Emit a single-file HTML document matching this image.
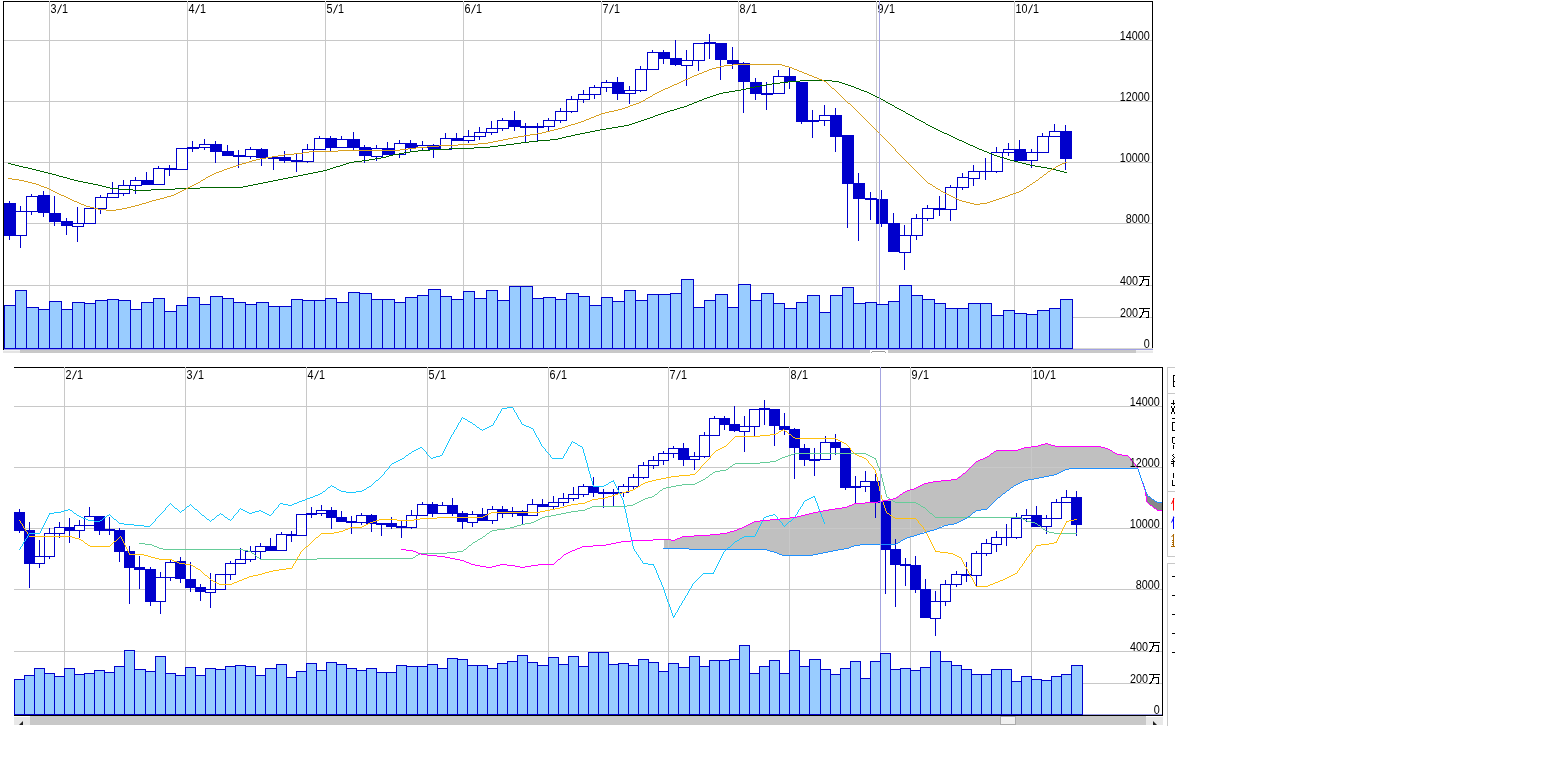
<!DOCTYPE html><html><head><meta charset="utf-8"><title>chart</title><style>html,body{margin:0;padding:0;background:#fff;overflow:hidden}svg{display:block;will-change:transform}</style></head><body><svg width="1558" height="768" viewBox="0 0 1558 768" font-family="Liberation Sans, sans-serif" shape-rendering="crispEdges">
<rect width="1558" height="768" fill="#fff"/>
<rect x="49" y="2" width="1" height="346" fill="#c8c8c8"/>
<rect x="187" y="2" width="1" height="346" fill="#c8c8c8"/>
<rect x="325" y="2" width="1" height="346" fill="#c8c8c8"/>
<rect x="463" y="2" width="1" height="346" fill="#c8c8c8"/>
<rect x="601" y="2" width="1" height="346" fill="#c8c8c8"/>
<rect x="738" y="2" width="1" height="346" fill="#c8c8c8"/>
<rect x="876" y="2" width="1" height="346" fill="#c8c8c8"/>
<rect x="1014" y="2" width="1" height="346" fill="#c8c8c8"/>
<rect x="4" y="40" width="1148" height="1" fill="#c8c8c8"/>
<rect x="4" y="101" width="1148" height="1" fill="#c8c8c8"/>
<rect x="4" y="162" width="1148" height="1" fill="#c8c8c8"/>
<rect x="4" y="223" width="1148" height="1" fill="#c8c8c8"/>
<rect x="4" y="285" width="1148" height="1" fill="#c8c8c8"/>
<rect x="4" y="317" width="1148" height="1" fill="#c8c8c8"/>
<rect x="4" y="348" width="1149" height="1" fill="#d8d8d0"/>
<rect x="4" y="349" width="1149" height="1" fill="#a0a0e4"/>
<rect x="3" y="350" width="17" height="1" fill="#f4f4f4"/>
<rect x="3" y="351" width="17" height="2" fill="#e4e4e4"/>
<rect x="20" y="350" width="1116" height="3" fill="#c8c8c8"/>
<rect x="1136" y="350" width="17" height="1" fill="#f4f4f4"/>
<rect x="1136" y="351" width="17" height="2" fill="#e8e8e8"/>
<rect x="870" y="350" width="18" height="3" fill="#fff"/>
<rect x="872" y="351" width="13" height="1" fill="#999"/>
<rect x="871" y="352" width="1" height="1" fill="#999"/>
<rect x="885" y="352" width="1" height="1" fill="#999"/>
<rect x="4.5" y="305.5" width="11" height="43" fill="#99ccff" stroke="#0000cc" stroke-width="1"/>
<rect x="15.5" y="290.5" width="11" height="58" fill="#99ccff" stroke="#0000cc" stroke-width="1"/>
<rect x="26.5" y="307.5" width="12" height="41" fill="#99ccff" stroke="#0000cc" stroke-width="1"/>
<rect x="38.5" y="309.5" width="11" height="39" fill="#99ccff" stroke="#0000cc" stroke-width="1"/>
<rect x="49.5" y="301.5" width="12" height="47" fill="#99ccff" stroke="#0000cc" stroke-width="1"/>
<rect x="61.5" y="309.5" width="11" height="39" fill="#99ccff" stroke="#0000cc" stroke-width="1"/>
<rect x="72.5" y="302.5" width="12" height="46" fill="#99ccff" stroke="#0000cc" stroke-width="1"/>
<rect x="84.5" y="303.5" width="11" height="45" fill="#99ccff" stroke="#0000cc" stroke-width="1"/>
<rect x="95.5" y="300.5" width="12" height="48" fill="#99ccff" stroke="#0000cc" stroke-width="1"/>
<rect x="107.5" y="299.5" width="11" height="49" fill="#99ccff" stroke="#0000cc" stroke-width="1"/>
<rect x="118.5" y="300.5" width="12" height="48" fill="#99ccff" stroke="#0000cc" stroke-width="1"/>
<rect x="130.5" y="309.5" width="11" height="39" fill="#99ccff" stroke="#0000cc" stroke-width="1"/>
<rect x="141.5" y="302.5" width="12" height="46" fill="#99ccff" stroke="#0000cc" stroke-width="1"/>
<rect x="153.5" y="298.5" width="11" height="50" fill="#99ccff" stroke="#0000cc" stroke-width="1"/>
<rect x="164.5" y="311.5" width="12" height="37" fill="#99ccff" stroke="#0000cc" stroke-width="1"/>
<rect x="176.5" y="305.5" width="11" height="43" fill="#99ccff" stroke="#0000cc" stroke-width="1"/>
<rect x="187.5" y="297.5" width="12" height="51" fill="#99ccff" stroke="#0000cc" stroke-width="1"/>
<rect x="199.5" y="304.5" width="11" height="44" fill="#99ccff" stroke="#0000cc" stroke-width="1"/>
<rect x="210.5" y="296.5" width="12" height="52" fill="#99ccff" stroke="#0000cc" stroke-width="1"/>
<rect x="222.5" y="298.5" width="11" height="50" fill="#99ccff" stroke="#0000cc" stroke-width="1"/>
<rect x="233.5" y="302.5" width="12" height="46" fill="#99ccff" stroke="#0000cc" stroke-width="1"/>
<rect x="245.5" y="304.5" width="11" height="44" fill="#99ccff" stroke="#0000cc" stroke-width="1"/>
<rect x="256.5" y="302.5" width="12" height="46" fill="#99ccff" stroke="#0000cc" stroke-width="1"/>
<rect x="268.5" y="306.5" width="11" height="42" fill="#99ccff" stroke="#0000cc" stroke-width="1"/>
<rect x="279.5" y="306.5" width="12" height="42" fill="#99ccff" stroke="#0000cc" stroke-width="1"/>
<rect x="291.5" y="299.5" width="11" height="49" fill="#99ccff" stroke="#0000cc" stroke-width="1"/>
<rect x="302.5" y="300.5" width="12" height="48" fill="#99ccff" stroke="#0000cc" stroke-width="1"/>
<rect x="314.5" y="300.5" width="11" height="48" fill="#99ccff" stroke="#0000cc" stroke-width="1"/>
<rect x="325.5" y="298.5" width="11" height="50" fill="#99ccff" stroke="#0000cc" stroke-width="1"/>
<rect x="336.5" y="302.5" width="12" height="46" fill="#99ccff" stroke="#0000cc" stroke-width="1"/>
<rect x="348.5" y="292.5" width="11" height="56" fill="#99ccff" stroke="#0000cc" stroke-width="1"/>
<rect x="359.5" y="293.5" width="12" height="55" fill="#99ccff" stroke="#0000cc" stroke-width="1"/>
<rect x="371.5" y="299.5" width="11" height="49" fill="#99ccff" stroke="#0000cc" stroke-width="1"/>
<rect x="382.5" y="299.5" width="12" height="49" fill="#99ccff" stroke="#0000cc" stroke-width="1"/>
<rect x="394.5" y="302.5" width="11" height="46" fill="#99ccff" stroke="#0000cc" stroke-width="1"/>
<rect x="405.5" y="297.5" width="12" height="51" fill="#99ccff" stroke="#0000cc" stroke-width="1"/>
<rect x="417.5" y="295.5" width="11" height="53" fill="#99ccff" stroke="#0000cc" stroke-width="1"/>
<rect x="428.5" y="289.5" width="12" height="59" fill="#99ccff" stroke="#0000cc" stroke-width="1"/>
<rect x="440.5" y="296.5" width="11" height="52" fill="#99ccff" stroke="#0000cc" stroke-width="1"/>
<rect x="451.5" y="299.5" width="12" height="49" fill="#99ccff" stroke="#0000cc" stroke-width="1"/>
<rect x="463.5" y="291.5" width="11" height="57" fill="#99ccff" stroke="#0000cc" stroke-width="1"/>
<rect x="474.5" y="298.5" width="12" height="50" fill="#99ccff" stroke="#0000cc" stroke-width="1"/>
<rect x="486.5" y="290.5" width="11" height="58" fill="#99ccff" stroke="#0000cc" stroke-width="1"/>
<rect x="497.5" y="300.5" width="12" height="48" fill="#99ccff" stroke="#0000cc" stroke-width="1"/>
<rect x="509.5" y="286.5" width="11" height="62" fill="#99ccff" stroke="#0000cc" stroke-width="1"/>
<rect x="520.5" y="286.5" width="12" height="62" fill="#99ccff" stroke="#0000cc" stroke-width="1"/>
<rect x="532.5" y="298.5" width="11" height="50" fill="#99ccff" stroke="#0000cc" stroke-width="1"/>
<rect x="543.5" y="297.5" width="12" height="51" fill="#99ccff" stroke="#0000cc" stroke-width="1"/>
<rect x="555.5" y="299.5" width="11" height="49" fill="#99ccff" stroke="#0000cc" stroke-width="1"/>
<rect x="566.5" y="293.5" width="12" height="55" fill="#99ccff" stroke="#0000cc" stroke-width="1"/>
<rect x="578.5" y="296.5" width="11" height="52" fill="#99ccff" stroke="#0000cc" stroke-width="1"/>
<rect x="589.5" y="305.5" width="12" height="43" fill="#99ccff" stroke="#0000cc" stroke-width="1"/>
<rect x="601.5" y="297.5" width="11" height="51" fill="#99ccff" stroke="#0000cc" stroke-width="1"/>
<rect x="612.5" y="301.5" width="12" height="47" fill="#99ccff" stroke="#0000cc" stroke-width="1"/>
<rect x="624.5" y="290.5" width="11" height="58" fill="#99ccff" stroke="#0000cc" stroke-width="1"/>
<rect x="635.5" y="300.5" width="12" height="48" fill="#99ccff" stroke="#0000cc" stroke-width="1"/>
<rect x="647.5" y="294.5" width="11" height="54" fill="#99ccff" stroke="#0000cc" stroke-width="1"/>
<rect x="658.5" y="294.5" width="12" height="54" fill="#99ccff" stroke="#0000cc" stroke-width="1"/>
<rect x="670.5" y="293.5" width="11" height="55" fill="#99ccff" stroke="#0000cc" stroke-width="1"/>
<rect x="681.5" y="279.5" width="12" height="69" fill="#99ccff" stroke="#0000cc" stroke-width="1"/>
<rect x="693.5" y="307.5" width="11" height="41" fill="#99ccff" stroke="#0000cc" stroke-width="1"/>
<rect x="704.5" y="300.5" width="11" height="48" fill="#99ccff" stroke="#0000cc" stroke-width="1"/>
<rect x="715.5" y="294.5" width="12" height="54" fill="#99ccff" stroke="#0000cc" stroke-width="1"/>
<rect x="727.5" y="307.5" width="11" height="41" fill="#99ccff" stroke="#0000cc" stroke-width="1"/>
<rect x="738.5" y="284.5" width="12" height="64" fill="#99ccff" stroke="#0000cc" stroke-width="1"/>
<rect x="750.5" y="300.5" width="11" height="48" fill="#99ccff" stroke="#0000cc" stroke-width="1"/>
<rect x="761.5" y="293.5" width="12" height="55" fill="#99ccff" stroke="#0000cc" stroke-width="1"/>
<rect x="773.5" y="303.5" width="11" height="45" fill="#99ccff" stroke="#0000cc" stroke-width="1"/>
<rect x="784.5" y="308.5" width="12" height="40" fill="#99ccff" stroke="#0000cc" stroke-width="1"/>
<rect x="796.5" y="302.5" width="11" height="46" fill="#99ccff" stroke="#0000cc" stroke-width="1"/>
<rect x="807.5" y="295.5" width="12" height="53" fill="#99ccff" stroke="#0000cc" stroke-width="1"/>
<rect x="819.5" y="312.5" width="11" height="36" fill="#99ccff" stroke="#0000cc" stroke-width="1"/>
<rect x="830.5" y="295.5" width="12" height="53" fill="#99ccff" stroke="#0000cc" stroke-width="1"/>
<rect x="842.5" y="287.5" width="11" height="61" fill="#99ccff" stroke="#0000cc" stroke-width="1"/>
<rect x="853.5" y="303.5" width="12" height="45" fill="#99ccff" stroke="#0000cc" stroke-width="1"/>
<rect x="865.5" y="302.5" width="11" height="46" fill="#99ccff" stroke="#0000cc" stroke-width="1"/>
<rect x="876.5" y="304.5" width="12" height="44" fill="#99ccff" stroke="#0000cc" stroke-width="1"/>
<rect x="888.5" y="301.5" width="11" height="47" fill="#99ccff" stroke="#0000cc" stroke-width="1"/>
<rect x="899.5" y="285.5" width="12" height="63" fill="#99ccff" stroke="#0000cc" stroke-width="1"/>
<rect x="911.5" y="295.5" width="11" height="53" fill="#99ccff" stroke="#0000cc" stroke-width="1"/>
<rect x="922.5" y="299.5" width="12" height="49" fill="#99ccff" stroke="#0000cc" stroke-width="1"/>
<rect x="934.5" y="303.5" width="11" height="45" fill="#99ccff" stroke="#0000cc" stroke-width="1"/>
<rect x="945.5" y="308.5" width="12" height="40" fill="#99ccff" stroke="#0000cc" stroke-width="1"/>
<rect x="957.5" y="308.5" width="11" height="40" fill="#99ccff" stroke="#0000cc" stroke-width="1"/>
<rect x="968.5" y="303.5" width="12" height="45" fill="#99ccff" stroke="#0000cc" stroke-width="1"/>
<rect x="980.5" y="303.5" width="11" height="45" fill="#99ccff" stroke="#0000cc" stroke-width="1"/>
<rect x="991.5" y="315.5" width="12" height="33" fill="#99ccff" stroke="#0000cc" stroke-width="1"/>
<rect x="1003.5" y="310.5" width="11" height="38" fill="#99ccff" stroke="#0000cc" stroke-width="1"/>
<rect x="1014.5" y="313.5" width="12" height="35" fill="#99ccff" stroke="#0000cc" stroke-width="1"/>
<rect x="1026.5" y="314.5" width="11" height="34" fill="#99ccff" stroke="#0000cc" stroke-width="1"/>
<rect x="1037.5" y="310.5" width="12" height="38" fill="#99ccff" stroke="#0000cc" stroke-width="1"/>
<rect x="1049.5" y="308.5" width="11" height="40" fill="#99ccff" stroke="#0000cc" stroke-width="1"/>
<rect x="1060.5" y="299.5" width="12" height="49" fill="#99ccff" stroke="#0000cc" stroke-width="1"/>
<rect x="9" y="201" width="1" height="3" fill="#0000cc"/>
<rect x="9" y="235" width="1" height="5" fill="#0000cc"/>
<rect x="4" y="203" width="12" height="33" fill="#0000cc"/>
<rect x="20" y="206" width="1" height="6" fill="#0000cc"/>
<rect x="20" y="235" width="1" height="13" fill="#0000cc"/>
<rect x="15.5" y="211.5" width="11" height="24" fill="#fff" stroke="#0000cc" stroke-width="1"/>
<rect x="31" y="194" width="1" height="3" fill="#0000cc"/>
<rect x="31" y="211" width="1" height="4" fill="#0000cc"/>
<rect x="26.5" y="196.5" width="11" height="15" fill="#fff" stroke="#0000cc" stroke-width="1"/>
<rect x="43" y="191" width="1" height="5" fill="#0000cc"/>
<rect x="43" y="212" width="1" height="5" fill="#0000cc"/>
<rect x="38" y="195" width="12" height="18" fill="#0000cc"/>
<rect x="54" y="196" width="1" height="18" fill="#0000cc"/>
<rect x="54" y="221" width="1" height="5" fill="#0000cc"/>
<rect x="49" y="213" width="12" height="9" fill="#0000cc"/>
<rect x="66" y="218" width="1" height="4" fill="#0000cc"/>
<rect x="66" y="225" width="1" height="10" fill="#0000cc"/>
<rect x="61" y="221" width="12" height="5" fill="#0000cc"/>
<rect x="77" y="207" width="1" height="17" fill="#0000cc"/>
<rect x="77" y="226" width="1" height="16" fill="#0000cc"/>
<rect x="72.5" y="223.5" width="11" height="3" fill="#fff" stroke="#0000cc" stroke-width="1"/>
<rect x="84.5" y="208.5" width="11" height="15" fill="#fff" stroke="#0000cc" stroke-width="1"/>
<rect x="100" y="195" width="1" height="3" fill="#0000cc"/>
<rect x="100" y="208" width="1" height="6" fill="#0000cc"/>
<rect x="95.5" y="197.5" width="11" height="11" fill="#fff" stroke="#0000cc" stroke-width="1"/>
<rect x="112" y="182" width="1" height="12" fill="#0000cc"/>
<rect x="107.5" y="193.5" width="11" height="4" fill="#fff" stroke="#0000cc" stroke-width="1"/>
<rect x="123" y="180" width="1" height="6" fill="#0000cc"/>
<rect x="123" y="193" width="1" height="3" fill="#0000cc"/>
<rect x="118.5" y="185.5" width="11" height="8" fill="#fff" stroke="#0000cc" stroke-width="1"/>
<rect x="135" y="177" width="1" height="4" fill="#0000cc"/>
<rect x="135" y="185" width="1" height="9" fill="#0000cc"/>
<rect x="130.5" y="180.5" width="11" height="5" fill="#fff" stroke="#0000cc" stroke-width="1"/>
<rect x="146" y="172" width="1" height="9" fill="#0000cc"/>
<rect x="141" y="180" width="12" height="5" fill="#0000cc"/>
<rect x="158" y="166" width="1" height="3" fill="#0000cc"/>
<rect x="153.5" y="168.5" width="11" height="16" fill="#fff" stroke="#0000cc" stroke-width="1"/>
<rect x="169" y="165" width="1" height="4" fill="#0000cc"/>
<rect x="169" y="169" width="1" height="7" fill="#0000cc"/>
<rect x="164.5" y="168.5" width="11" height="1" fill="#fff" stroke="#0000cc" stroke-width="1"/>
<rect x="176.5" y="148.5" width="11" height="21" fill="#fff" stroke="#0000cc" stroke-width="1"/>
<rect x="192" y="141" width="1" height="7" fill="#0000cc"/>
<rect x="192" y="148" width="1" height="4" fill="#0000cc"/>
<rect x="187.5" y="147.5" width="11" height="1" fill="#fff" stroke="#0000cc" stroke-width="1"/>
<rect x="204" y="139" width="1" height="6" fill="#0000cc"/>
<rect x="204" y="147" width="1" height="3" fill="#0000cc"/>
<rect x="199.5" y="144.5" width="11" height="3" fill="#fff" stroke="#0000cc" stroke-width="1"/>
<rect x="215" y="141" width="1" height="4" fill="#0000cc"/>
<rect x="215" y="151" width="1" height="12" fill="#0000cc"/>
<rect x="210" y="144" width="12" height="8" fill="#0000cc"/>
<rect x="227" y="145" width="1" height="7" fill="#0000cc"/>
<rect x="222" y="151" width="12" height="5" fill="#0000cc"/>
<rect x="238" y="150" width="1" height="6" fill="#0000cc"/>
<rect x="238" y="156" width="1" height="12" fill="#0000cc"/>
<rect x="233" y="155" width="12" height="2" fill="#0000cc"/>
<rect x="250" y="147" width="1" height="3" fill="#0000cc"/>
<rect x="250" y="156" width="1" height="3" fill="#0000cc"/>
<rect x="245.5" y="149.5" width="11" height="7" fill="#fff" stroke="#0000cc" stroke-width="1"/>
<rect x="261" y="148" width="1" height="2" fill="#0000cc"/>
<rect x="261" y="157" width="1" height="9" fill="#0000cc"/>
<rect x="256" y="149" width="12" height="9" fill="#0000cc"/>
<rect x="273" y="158" width="1" height="12" fill="#0000cc"/>
<rect x="268" y="157" width="12" height="2" fill="#0000cc"/>
<rect x="284" y="151" width="1" height="7" fill="#0000cc"/>
<rect x="284" y="160" width="1" height="3" fill="#0000cc"/>
<rect x="279" y="157" width="12" height="4" fill="#0000cc"/>
<rect x="296" y="154" width="1" height="7" fill="#0000cc"/>
<rect x="296" y="161" width="1" height="11" fill="#0000cc"/>
<rect x="291" y="160" width="12" height="2" fill="#0000cc"/>
<rect x="307" y="144" width="1" height="6" fill="#0000cc"/>
<rect x="307" y="161" width="1" height="2" fill="#0000cc"/>
<rect x="302.5" y="149.5" width="11" height="12" fill="#fff" stroke="#0000cc" stroke-width="1"/>
<rect x="319" y="136" width="1" height="3" fill="#0000cc"/>
<rect x="314.5" y="138.5" width="11" height="11" fill="#fff" stroke="#0000cc" stroke-width="1"/>
<rect x="330" y="136" width="1" height="3" fill="#0000cc"/>
<rect x="330" y="147" width="1" height="4" fill="#0000cc"/>
<rect x="325" y="138" width="12" height="10" fill="#0000cc"/>
<rect x="341" y="136" width="1" height="4" fill="#0000cc"/>
<rect x="336.5" y="139.5" width="11" height="8" fill="#fff" stroke="#0000cc" stroke-width="1"/>
<rect x="353" y="132" width="1" height="8" fill="#0000cc"/>
<rect x="353" y="147" width="1" height="3" fill="#0000cc"/>
<rect x="348" y="139" width="12" height="9" fill="#0000cc"/>
<rect x="364" y="145" width="1" height="3" fill="#0000cc"/>
<rect x="364" y="155" width="1" height="8" fill="#0000cc"/>
<rect x="359" y="147" width="12" height="9" fill="#0000cc"/>
<rect x="376" y="145" width="1" height="4" fill="#0000cc"/>
<rect x="376" y="156" width="1" height="5" fill="#0000cc"/>
<rect x="371.5" y="148.5" width="11" height="8" fill="#fff" stroke="#0000cc" stroke-width="1"/>
<rect x="387" y="142" width="1" height="7" fill="#0000cc"/>
<rect x="382" y="148" width="12" height="7" fill="#0000cc"/>
<rect x="399" y="140" width="1" height="4" fill="#0000cc"/>
<rect x="399" y="154" width="1" height="4" fill="#0000cc"/>
<rect x="394.5" y="143.5" width="11" height="11" fill="#fff" stroke="#0000cc" stroke-width="1"/>
<rect x="410" y="140" width="1" height="4" fill="#0000cc"/>
<rect x="410" y="147" width="1" height="5" fill="#0000cc"/>
<rect x="405" y="143" width="12" height="5" fill="#0000cc"/>
<rect x="422" y="141" width="1" height="5" fill="#0000cc"/>
<rect x="422" y="147" width="1" height="4" fill="#0000cc"/>
<rect x="417.5" y="145.5" width="11" height="2" fill="#fff" stroke="#0000cc" stroke-width="1"/>
<rect x="433" y="144" width="1" height="2" fill="#0000cc"/>
<rect x="433" y="149" width="1" height="9" fill="#0000cc"/>
<rect x="428" y="145" width="12" height="5" fill="#0000cc"/>
<rect x="445" y="133" width="1" height="6" fill="#0000cc"/>
<rect x="440.5" y="138.5" width="11" height="11" fill="#fff" stroke="#0000cc" stroke-width="1"/>
<rect x="456" y="133" width="1" height="6" fill="#0000cc"/>
<rect x="451" y="138" width="12" height="3" fill="#0000cc"/>
<rect x="468" y="130" width="1" height="7" fill="#0000cc"/>
<rect x="468" y="140" width="1" height="3" fill="#0000cc"/>
<rect x="463.5" y="136.5" width="11" height="4" fill="#fff" stroke="#0000cc" stroke-width="1"/>
<rect x="479" y="127" width="1" height="6" fill="#0000cc"/>
<rect x="479" y="136" width="1" height="4" fill="#0000cc"/>
<rect x="474.5" y="132.5" width="11" height="4" fill="#fff" stroke="#0000cc" stroke-width="1"/>
<rect x="491" y="121" width="1" height="8" fill="#0000cc"/>
<rect x="491" y="132" width="1" height="3" fill="#0000cc"/>
<rect x="486.5" y="128.5" width="11" height="4" fill="#fff" stroke="#0000cc" stroke-width="1"/>
<rect x="502" y="118" width="1" height="3" fill="#0000cc"/>
<rect x="502" y="128" width="1" height="3" fill="#0000cc"/>
<rect x="497.5" y="120.5" width="11" height="8" fill="#fff" stroke="#0000cc" stroke-width="1"/>
<rect x="514" y="111" width="1" height="10" fill="#0000cc"/>
<rect x="514" y="126" width="1" height="5" fill="#0000cc"/>
<rect x="509" y="120" width="12" height="7" fill="#0000cc"/>
<rect x="525" y="123" width="1" height="4" fill="#0000cc"/>
<rect x="525" y="127" width="1" height="15" fill="#0000cc"/>
<rect x="520" y="126" width="12" height="2" fill="#0000cc"/>
<rect x="537" y="123" width="1" height="4" fill="#0000cc"/>
<rect x="537" y="127" width="1" height="14" fill="#0000cc"/>
<rect x="532.5" y="126.5" width="11" height="1" fill="#fff" stroke="#0000cc" stroke-width="1"/>
<rect x="548" y="118" width="1" height="3" fill="#0000cc"/>
<rect x="548" y="126" width="1" height="5" fill="#0000cc"/>
<rect x="543.5" y="120.5" width="11" height="6" fill="#fff" stroke="#0000cc" stroke-width="1"/>
<rect x="560" y="108" width="1" height="4" fill="#0000cc"/>
<rect x="560" y="120" width="1" height="3" fill="#0000cc"/>
<rect x="555.5" y="111.5" width="11" height="9" fill="#fff" stroke="#0000cc" stroke-width="1"/>
<rect x="571" y="96" width="1" height="4" fill="#0000cc"/>
<rect x="571" y="111" width="1" height="2" fill="#0000cc"/>
<rect x="566.5" y="99.5" width="11" height="12" fill="#fff" stroke="#0000cc" stroke-width="1"/>
<rect x="583" y="90" width="1" height="5" fill="#0000cc"/>
<rect x="583" y="99" width="1" height="4" fill="#0000cc"/>
<rect x="578.5" y="94.5" width="11" height="5" fill="#fff" stroke="#0000cc" stroke-width="1"/>
<rect x="594" y="85" width="1" height="3" fill="#0000cc"/>
<rect x="594" y="94" width="1" height="5" fill="#0000cc"/>
<rect x="589.5" y="87.5" width="11" height="7" fill="#fff" stroke="#0000cc" stroke-width="1"/>
<rect x="606" y="80" width="1" height="3" fill="#0000cc"/>
<rect x="606" y="87" width="1" height="5" fill="#0000cc"/>
<rect x="601.5" y="82.5" width="11" height="5" fill="#fff" stroke="#0000cc" stroke-width="1"/>
<rect x="617" y="77" width="1" height="6" fill="#0000cc"/>
<rect x="617" y="93" width="1" height="7" fill="#0000cc"/>
<rect x="612" y="82" width="12" height="12" fill="#0000cc"/>
<rect x="629" y="86" width="1" height="5" fill="#0000cc"/>
<rect x="629" y="93" width="1" height="11" fill="#0000cc"/>
<rect x="624.5" y="90.5" width="11" height="3" fill="#fff" stroke="#0000cc" stroke-width="1"/>
<rect x="640" y="66" width="1" height="4" fill="#0000cc"/>
<rect x="640" y="90" width="1" height="2" fill="#0000cc"/>
<rect x="635.5" y="69.5" width="11" height="21" fill="#fff" stroke="#0000cc" stroke-width="1"/>
<rect x="652" y="50" width="1" height="3" fill="#0000cc"/>
<rect x="647.5" y="52.5" width="11" height="17" fill="#fff" stroke="#0000cc" stroke-width="1"/>
<rect x="663" y="50" width="1" height="3" fill="#0000cc"/>
<rect x="663" y="58" width="1" height="6" fill="#0000cc"/>
<rect x="658" y="52" width="12" height="7" fill="#0000cc"/>
<rect x="675" y="40" width="1" height="19" fill="#0000cc"/>
<rect x="675" y="64" width="1" height="2" fill="#0000cc"/>
<rect x="670" y="58" width="12" height="7" fill="#0000cc"/>
<rect x="686" y="50" width="1" height="11" fill="#0000cc"/>
<rect x="686" y="65" width="1" height="21" fill="#0000cc"/>
<rect x="681.5" y="60.5" width="11" height="5" fill="#fff" stroke="#0000cc" stroke-width="1"/>
<rect x="698" y="60" width="1" height="11" fill="#0000cc"/>
<rect x="693.5" y="43.5" width="11" height="17" fill="#fff" stroke="#0000cc" stroke-width="1"/>
<rect x="709" y="34" width="1" height="9" fill="#0000cc"/>
<rect x="709" y="43" width="1" height="16" fill="#0000cc"/>
<rect x="704.5" y="42.5" width="11" height="1" fill="#fff" stroke="#0000cc" stroke-width="1"/>
<rect x="720" y="59" width="1" height="21" fill="#0000cc"/>
<rect x="715" y="43" width="12" height="17" fill="#0000cc"/>
<rect x="732" y="47" width="1" height="14" fill="#0000cc"/>
<rect x="732" y="63" width="1" height="6" fill="#0000cc"/>
<rect x="727" y="60" width="12" height="4" fill="#0000cc"/>
<rect x="743" y="62" width="1" height="2" fill="#0000cc"/>
<rect x="743" y="81" width="1" height="32" fill="#0000cc"/>
<rect x="738" y="63" width="12" height="19" fill="#0000cc"/>
<rect x="755" y="78" width="1" height="5" fill="#0000cc"/>
<rect x="755" y="93" width="1" height="7" fill="#0000cc"/>
<rect x="750" y="82" width="12" height="12" fill="#0000cc"/>
<rect x="766" y="82" width="1" height="12" fill="#0000cc"/>
<rect x="766" y="94" width="1" height="16" fill="#0000cc"/>
<rect x="761.5" y="93.5" width="11" height="1" fill="#fff" stroke="#0000cc" stroke-width="1"/>
<rect x="778" y="70" width="1" height="7" fill="#0000cc"/>
<rect x="773.5" y="76.5" width="11" height="17" fill="#fff" stroke="#0000cc" stroke-width="1"/>
<rect x="789" y="68" width="1" height="9" fill="#0000cc"/>
<rect x="789" y="81" width="1" height="8" fill="#0000cc"/>
<rect x="784" y="76" width="12" height="6" fill="#0000cc"/>
<rect x="801" y="121" width="1" height="3" fill="#0000cc"/>
<rect x="796" y="82" width="12" height="40" fill="#0000cc"/>
<rect x="812" y="110" width="1" height="11" fill="#0000cc"/>
<rect x="812" y="121" width="1" height="17" fill="#0000cc"/>
<rect x="807" y="120" width="12" height="2" fill="#0000cc"/>
<rect x="824" y="105" width="1" height="11" fill="#0000cc"/>
<rect x="824" y="120" width="1" height="6" fill="#0000cc"/>
<rect x="819.5" y="115.5" width="11" height="5" fill="#fff" stroke="#0000cc" stroke-width="1"/>
<rect x="835" y="108" width="1" height="8" fill="#0000cc"/>
<rect x="835" y="136" width="1" height="16" fill="#0000cc"/>
<rect x="830" y="115" width="12" height="22" fill="#0000cc"/>
<rect x="847" y="183" width="1" height="45" fill="#0000cc"/>
<rect x="842" y="135" width="12" height="49" fill="#0000cc"/>
<rect x="858" y="173" width="1" height="11" fill="#0000cc"/>
<rect x="858" y="198" width="1" height="43" fill="#0000cc"/>
<rect x="853" y="183" width="12" height="16" fill="#0000cc"/>
<rect x="870" y="192" width="1" height="7" fill="#0000cc"/>
<rect x="870" y="199" width="1" height="21" fill="#0000cc"/>
<rect x="865" y="198" width="12" height="2" fill="#0000cc"/>
<rect x="881" y="190" width="1" height="10" fill="#0000cc"/>
<rect x="881" y="223" width="1" height="4" fill="#0000cc"/>
<rect x="876" y="199" width="12" height="25" fill="#0000cc"/>
<rect x="893" y="213" width="1" height="11" fill="#0000cc"/>
<rect x="888" y="223" width="12" height="29" fill="#0000cc"/>
<rect x="904" y="225" width="1" height="11" fill="#0000cc"/>
<rect x="904" y="252" width="1" height="18" fill="#0000cc"/>
<rect x="899.5" y="235.5" width="11" height="17" fill="#fff" stroke="#0000cc" stroke-width="1"/>
<rect x="916" y="214" width="1" height="5" fill="#0000cc"/>
<rect x="916" y="235" width="1" height="5" fill="#0000cc"/>
<rect x="911.5" y="218.5" width="11" height="17" fill="#fff" stroke="#0000cc" stroke-width="1"/>
<rect x="927" y="205" width="1" height="4" fill="#0000cc"/>
<rect x="927" y="218" width="1" height="3" fill="#0000cc"/>
<rect x="922.5" y="208.5" width="11" height="10" fill="#fff" stroke="#0000cc" stroke-width="1"/>
<rect x="939" y="196" width="1" height="13" fill="#0000cc"/>
<rect x="939" y="209" width="1" height="7" fill="#0000cc"/>
<rect x="934.5" y="208.5" width="11" height="1" fill="#fff" stroke="#0000cc" stroke-width="1"/>
<rect x="950" y="185" width="1" height="3" fill="#0000cc"/>
<rect x="950" y="209" width="1" height="12" fill="#0000cc"/>
<rect x="945.5" y="187.5" width="11" height="22" fill="#fff" stroke="#0000cc" stroke-width="1"/>
<rect x="962" y="173" width="1" height="5" fill="#0000cc"/>
<rect x="962" y="187" width="1" height="3" fill="#0000cc"/>
<rect x="957.5" y="177.5" width="11" height="10" fill="#fff" stroke="#0000cc" stroke-width="1"/>
<rect x="973" y="165" width="1" height="7" fill="#0000cc"/>
<rect x="973" y="178" width="1" height="8" fill="#0000cc"/>
<rect x="968.5" y="171.5" width="11" height="7" fill="#fff" stroke="#0000cc" stroke-width="1"/>
<rect x="985" y="158" width="1" height="14" fill="#0000cc"/>
<rect x="985" y="171" width="1" height="9" fill="#0000cc"/>
<rect x="980" y="171" width="12" height="1" fill="#0000cc"/>
<rect x="996" y="147" width="1" height="6" fill="#0000cc"/>
<rect x="996" y="171" width="1" height="2" fill="#0000cc"/>
<rect x="991.5" y="152.5" width="11" height="19" fill="#fff" stroke="#0000cc" stroke-width="1"/>
<rect x="1008" y="143" width="1" height="7" fill="#0000cc"/>
<rect x="1008" y="152" width="1" height="4" fill="#0000cc"/>
<rect x="1003.5" y="149.5" width="11" height="3" fill="#fff" stroke="#0000cc" stroke-width="1"/>
<rect x="1019" y="140" width="1" height="10" fill="#0000cc"/>
<rect x="1014" y="149" width="12" height="12" fill="#0000cc"/>
<rect x="1031" y="149" width="1" height="4" fill="#0000cc"/>
<rect x="1031" y="160" width="1" height="8" fill="#0000cc"/>
<rect x="1026.5" y="152.5" width="11" height="8" fill="#fff" stroke="#0000cc" stroke-width="1"/>
<rect x="1042" y="133" width="1" height="4" fill="#0000cc"/>
<rect x="1037.5" y="136.5" width="11" height="16" fill="#fff" stroke="#0000cc" stroke-width="1"/>
<rect x="1054" y="124" width="1" height="8" fill="#0000cc"/>
<rect x="1049.5" y="131.5" width="11" height="5" fill="#fff" stroke="#0000cc" stroke-width="1"/>
<rect x="1065" y="125" width="1" height="7" fill="#0000cc"/>
<rect x="1065" y="158" width="1" height="12" fill="#0000cc"/>
<rect x="1060" y="131" width="12" height="28" fill="#0000cc"/>
<path d="M800 80h32v1h-32zM788 81h12v1h-12zM832 81h7v1h-7zM780 82h8v1h-8zM839 82h3v1h-3zM772 83h8v1h-8zM842 83h3v1h-3zM766 84h6v1h-6zM845 84h3v1h-3zM760 85h6v1h-6zM848 85h3v1h-3zM755 86h5v1h-5zM851 86h3v1h-3zM750 87h5v1h-5zM854 87h2v1h-2zM746 88h4v1h-4zM856 88h3v1h-3zM741 89h5v1h-5zM859 89h2v1h-2zM735 90h6v1h-6zM861 90h3v1h-3zM729 91h6v1h-6zM864 91h3v1h-3zM723 92h6v1h-6zM867 92h2v1h-2zM719 93h4v1h-4zM869 93h2v1h-2zM716 94h3v1h-3zM871 94h2v1h-2zM713 95h3v1h-3zM873 95h2v1h-2zM710 96h3v1h-3zM875 96h2v1h-2zM707 97h3v1h-3zM877 97h2v1h-2zM704 98h3v1h-3zM879 98h2v1h-2zM702 99h2v1h-2zM881 99h2v1h-2zM699 100h3v1h-3zM883 100h2v1h-2zM697 101h2v1h-2zM885 101h1v1h-1zM694 102h3v1h-3zM886 102h2v1h-2zM692 103h2v1h-2zM888 103h2v1h-2zM689 104h3v1h-3zM890 104h2v1h-2zM687 105h2v1h-2zM892 105h2v1h-2zM684 106h3v1h-3zM894 106h1v1h-1zM680 107h4v1h-4zM895 107h2v1h-2zM677 108h3v1h-3zM897 108h2v1h-2zM674 109h3v1h-3zM899 109h2v1h-2zM670 110h4v1h-4zM901 110h2v1h-2zM667 111h3v1h-3zM903 111h2v1h-2zM664 112h3v1h-3zM905 112h1v1h-1zM661 113h3v1h-3zM906 113h2v1h-2zM658 114h3v1h-3zM908 114h2v1h-2zM655 115h3v1h-3zM910 115h2v1h-2zM653 116h2v1h-2zM912 116h2v1h-2zM650 117h3v1h-3zM914 117h1v1h-1zM647 118h3v1h-3zM915 118h2v1h-2zM644 119h3v1h-3zM917 119h2v1h-2zM641 120h3v1h-3zM919 120h2v1h-2zM638 121h3v1h-3zM921 121h2v1h-2zM635 122h3v1h-3zM923 122h2v1h-2zM632 123h3v1h-3zM925 123h1v1h-1zM629 124h3v1h-3zM926 124h2v1h-2zM624 125h5v1h-5zM928 125h2v1h-2zM618 126h6v1h-6zM930 126h2v1h-2zM612 127h6v1h-6zM932 127h2v1h-2zM606 128h6v1h-6zM934 128h2v1h-2zM600 129h6v1h-6zM936 129h2v1h-2zM595 130h5v1h-5zM938 130h2v1h-2zM590 131h5v1h-5zM940 131h2v1h-2zM585 132h5v1h-5zM942 132h2v1h-2zM580 133h5v1h-5zM944 133h3v1h-3zM575 134h5v1h-5zM947 134h2v1h-2zM571 135h4v1h-4zM949 135h2v1h-2zM566 136h5v1h-5zM951 136h2v1h-2zM562 137h4v1h-4zM953 137h2v1h-2zM558 138h4v1h-4zM955 138h2v1h-2zM550 139h8v1h-8zM957 139h2v1h-2zM538 140h12v1h-12zM959 140h3v1h-3zM529 141h9v1h-9zM962 141h2v1h-2zM521 142h8v1h-8zM964 142h2v1h-2zM514 143h7v1h-7zM966 143h2v1h-2zM506 144h8v1h-8zM968 144h2v1h-2zM498 145h8v1h-8zM970 145h3v1h-3zM490 146h8v1h-8zM973 146h2v1h-2zM474 147h16v1h-16zM975 147h2v1h-2zM449 148h25v1h-25zM977 148h2v1h-2zM430 149h19v1h-19zM979 149h3v1h-3zM418 150h12v1h-12zM982 150h2v1h-2zM410 151h8v1h-8zM984 151h3v1h-3zM404 152h6v1h-6zM987 152h2v1h-2zM399 153h5v1h-5zM989 153h3v1h-3zM393 154h6v1h-6zM992 154h2v1h-2zM389 155h4v1h-4zM994 155h3v1h-3zM386 156h3v1h-3zM997 156h3v1h-3zM381 157h5v1h-5zM1000 157h4v1h-4zM375 158h6v1h-6zM1004 158h3v1h-3zM369 159h6v1h-6zM1007 159h3v1h-3zM362 160h7v1h-7zM1010 160h4v1h-4zM354 161h8v1h-8zM1014 161h4v1h-4zM349 162h5v1h-5zM1018 162h4v1h-4zM8 163h3v1h-3zM346 163h3v1h-3zM1022 163h4v1h-4zM11 164h4v1h-4zM343 164h3v1h-3zM1026 164h4v1h-4zM15 165h4v1h-4zM340 165h3v1h-3zM1030 165h5v1h-5zM19 166h4v1h-4zM336 166h4v1h-4zM1035 166h6v1h-6zM23 167h5v1h-5zM333 167h3v1h-3zM1041 167h6v1h-6zM28 168h4v1h-4zM330 168h3v1h-3zM1047 168h5v1h-5zM32 169h4v1h-4zM327 169h3v1h-3zM1052 169h4v1h-4zM36 170h4v1h-4zM323 170h4v1h-4zM1056 170h4v1h-4zM40 171h4v1h-4zM318 171h5v1h-5zM1060 171h4v1h-4zM44 172h4v1h-4zM313 172h5v1h-5zM1064 172h3v1h-3zM48 173h4v1h-4zM308 173h5v1h-5zM52 174h4v1h-4zM303 174h5v1h-5zM56 175h3v1h-3zM298 175h5v1h-5zM59 176h4v1h-4zM293 176h5v1h-5zM63 177h4v1h-4zM288 177h5v1h-5zM67 178h3v1h-3zM283 178h5v1h-5zM70 179h4v1h-4zM278 179h5v1h-5zM74 180h4v1h-4zM273 180h5v1h-5zM78 181h5v1h-5zM268 181h5v1h-5zM83 182h5v1h-5zM263 182h5v1h-5zM88 183h5v1h-5zM258 183h5v1h-5zM93 184h5v1h-5zM253 184h5v1h-5zM98 185h4v1h-4zM248 185h5v1h-5zM102 186h4v1h-4zM243 186h5v1h-5zM106 187h4v1h-4zM200 187h43v1h-43zM110 188h9v1h-9zM175 188h25v1h-25zM119 189h14v1h-14zM151 189h24v1h-24zM133 190h18v1h-18z" fill="#006400"/>
<path d="M733 64h49v1h-49zM724 65h9v1h-9zM782 65h3v1h-3zM720 66h4v1h-4zM785 66h4v1h-4zM716 67h4v1h-4zM789 67h3v1h-3zM712 68h4v1h-4zM792 68h2v1h-2zM709 69h3v1h-3zM794 69h3v1h-3zM707 70h2v1h-2zM797 70h2v1h-2zM704 71h3v1h-3zM799 71h3v1h-3zM702 72h2v1h-2zM802 72h2v1h-2zM699 73h3v1h-3zM804 73h3v1h-3zM697 74h2v1h-2zM807 74h2v1h-2zM694 75h3v1h-3zM809 75h3v1h-3zM692 76h2v1h-2zM812 76h2v1h-2zM690 77h2v1h-2zM814 77h3v1h-3zM688 78h2v1h-2zM817 78h2v1h-2zM685 79h3v1h-3zM819 79h3v1h-3zM683 80h2v1h-2zM822 80h2v1h-2zM681 81h2v1h-2zM824 81h2v1h-2zM679 82h2v1h-2zM826 82h1v1h-1zM677 83h2v1h-2zM827 83h1v1h-1zM674 84h3v1h-3zM828 84h1v1h-1zM672 85h2v1h-2zM829 85h1v1h-1zM670 86h2v1h-2zM830 86h1v1h-1zM668 87h2v1h-2zM831 87h1v1h-1zM665 88h3v1h-3zM832 88h2v1h-2zM663 89h2v1h-2zM834 89h1v1h-1zM661 90h2v1h-2zM835 90h1v1h-1zM659 91h2v1h-2zM836 91h1v1h-1zM657 92h2v1h-2zM837 92h1v1h-1zM655 93h2v1h-2zM838 93h1v1h-1zM653 94h2v1h-2zM839 94h1v1h-1zM652 95h1v1h-1zM840 95h1v1h-1zM650 96h2v1h-2zM841 96h1v1h-1zM648 97h2v1h-2zM842 97h1v1h-1zM646 98h2v1h-2zM843 98h1v1h-1zM645 99h1v1h-1zM844 99h1v1h-1zM643 100h2v1h-2zM845 100h1v1h-1zM641 101h2v1h-2zM846 101h1v1h-1zM639 102h2v1h-2zM847 102h1v1h-1zM636 103h3v1h-3zM848 103h2v1h-2zM633 104h3v1h-3zM850 104h1v1h-1zM630 105h3v1h-3zM851 105h1v1h-1zM628 106h2v1h-2zM852 106h1v1h-1zM625 107h3v1h-3zM853 107h1v1h-1zM622 108h3v1h-3zM854 108h1v1h-1zM618 109h4v1h-4zM855 109h1v1h-1zM614 110h4v1h-4zM856 110h1v1h-1zM609 111h5v1h-5zM857 111h1v1h-1zM605 112h4v1h-4zM858 112h1v1h-1zM601 113h4v1h-4zM859 113h1v1h-1zM599 114h2v1h-2zM860 114h1v1h-1zM596 115h3v1h-3zM861 115h1v1h-1zM594 116h2v1h-2zM862 116h1v1h-1zM591 117h3v1h-3zM863 117h1v1h-1zM589 118h2v1h-2zM864 118h1v1h-1zM586 119h3v1h-3zM865 119h1v1h-1zM584 120h2v1h-2zM866 120h1v1h-1zM581 121h3v1h-3zM867 121h1v1h-1zM578 122h3v1h-3zM868 122h1v1h-1zM575 123h3v1h-3zM869 123h1v1h-1zM571 124h4v1h-4zM870 124h1v1h-1zM568 125h3v1h-3zM871 125h1v1h-1zM565 126h3v1h-3zM872 126h1v1h-1zM562 127h3v1h-3zM873 127h1v1h-1zM558 128h4v1h-4zM874 128h1v1h-1zM554 129h4v1h-4zM875 129h1v1h-1zM550 130h4v1h-4zM876 130h1v1h-1zM546 131h4v1h-4zM877 131h1v1h-1zM542 132h4v1h-4zM878 132h1v1h-1zM537 133h5v1h-5zM879 133h1v1h-1zM530 134h7v1h-7zM880 134h1v1h-1zM524 135h6v1h-6zM881 135h1v1h-1zM518 136h6v1h-6zM882 136h1v1h-1zM513 137h5v1h-5zM883 137h1v1h-1zM508 138h5v1h-5zM884 138h1v1h-1zM503 139h5v1h-5zM885 139h1v1h-1zM498 140h5v1h-5zM886 140h1v1h-1zM493 141h5v1h-5zM887 141h1v1h-1zM488 142h5v1h-5zM888 142h1v1h-1zM478 143h10v1h-10zM889 143h1v1h-1zM458 144h20v1h-20zM890 144h1v1h-1zM439 145h19v1h-19zM891 145h1v1h-1zM427 146h12v1h-12zM892 146h1v1h-1zM416 147h11v1h-11zM893 147h1v1h-1zM408 148h8v1h-8zM894 148h1v1h-1zM400 149h8v1h-8zM895 149h1v1h-1zM338 150h62v1h-62zM895 150h1v1h-1zM309 151h29v1h-29zM896 151h1v1h-1zM303 152h6v1h-6zM897 152h1v1h-1zM294 153h9v1h-9zM898 153h1v1h-1zM284 154h10v1h-10zM899 154h1v1h-1zM278 155h6v1h-6zM900 155h1v1h-1zM272 156h6v1h-6zM901 156h1v1h-1zM266 157h6v1h-6zM902 157h1v1h-1zM260 158h6v1h-6zM903 158h1v1h-1zM256 159h4v1h-4zM904 159h1v1h-1zM252 160h4v1h-4zM905 160h1v1h-1zM249 161h3v1h-3zM906 161h1v1h-1zM246 162h3v1h-3zM907 162h1v1h-1zM1065 162h2v1h-2zM242 163h4v1h-4zM908 163h1v1h-1zM1062 163h3v1h-3zM239 164h3v1h-3zM909 164h1v1h-1zM1060 164h2v1h-2zM236 165h3v1h-3zM910 165h1v1h-1zM1058 165h2v1h-2zM233 166h3v1h-3zM911 166h1v1h-1zM1056 166h2v1h-2zM230 167h3v1h-3zM912 167h1v1h-1zM1055 167h1v1h-1zM227 168h3v1h-3zM913 168h1v1h-1zM1053 168h2v1h-2zM224 169h3v1h-3zM914 169h1v1h-1zM1051 169h2v1h-2zM222 170h2v1h-2zM915 170h1v1h-1zM1050 170h1v1h-1zM219 171h3v1h-3zM916 171h1v1h-1zM1048 171h2v1h-2zM216 172h3v1h-3zM917 172h1v1h-1zM1047 172h1v1h-1zM214 173h2v1h-2zM918 173h1v1h-1zM1046 173h1v1h-1zM212 174h2v1h-2zM919 174h1v1h-1zM1044 174h2v1h-2zM210 175h2v1h-2zM920 175h1v1h-1zM1043 175h1v1h-1zM208 176h2v1h-2zM921 176h1v1h-1zM1042 176h1v1h-1zM206 177h2v1h-2zM922 177h1v1h-1zM1040 177h2v1h-2zM8 178h4v1h-4zM205 178h1v1h-1zM923 178h1v1h-1zM1039 178h1v1h-1zM12 179h7v1h-7zM203 179h2v1h-2zM924 179h1v1h-1zM1038 179h1v1h-1zM19 180h5v1h-5zM201 180h2v1h-2zM925 180h1v1h-1zM1036 180h2v1h-2zM24 181h4v1h-4zM200 181h1v1h-1zM926 181h1v1h-1zM1035 181h1v1h-1zM28 182h4v1h-4zM198 182h2v1h-2zM927 182h1v1h-1zM1033 182h2v1h-2zM32 183h4v1h-4zM196 183h2v1h-2zM928 183h2v1h-2zM1032 183h1v1h-1zM36 184h3v1h-3zM194 184h2v1h-2zM930 184h2v1h-2zM1030 184h2v1h-2zM39 185h2v1h-2zM192 185h2v1h-2zM932 185h1v1h-1zM1029 185h1v1h-1zM41 186h3v1h-3zM190 186h2v1h-2zM933 186h2v1h-2zM1027 186h2v1h-2zM44 187h3v1h-3zM188 187h2v1h-2zM935 187h1v1h-1zM1026 187h1v1h-1zM47 188h2v1h-2zM186 188h2v1h-2zM936 188h2v1h-2zM1024 188h2v1h-2zM49 189h2v1h-2zM184 189h2v1h-2zM938 189h2v1h-2zM1023 189h1v1h-1zM51 190h2v1h-2zM182 190h2v1h-2zM940 190h1v1h-1zM1021 190h2v1h-2zM53 191h2v1h-2zM180 191h2v1h-2zM941 191h2v1h-2zM1019 191h2v1h-2zM55 192h2v1h-2zM178 192h2v1h-2zM943 192h2v1h-2zM1016 192h3v1h-3zM57 193h2v1h-2zM176 193h2v1h-2zM945 193h2v1h-2zM1013 193h3v1h-3zM59 194h2v1h-2zM174 194h2v1h-2zM947 194h2v1h-2zM1010 194h3v1h-3zM61 195h3v1h-3zM171 195h3v1h-3zM949 195h2v1h-2zM1008 195h2v1h-2zM64 196h2v1h-2zM167 196h4v1h-4zM951 196h2v1h-2zM1005 196h3v1h-3zM66 197h2v1h-2zM164 197h3v1h-3zM953 197h2v1h-2zM1002 197h3v1h-3zM68 198h2v1h-2zM160 198h4v1h-4zM955 198h2v1h-2zM999 198h3v1h-3zM70 199h2v1h-2zM156 199h4v1h-4zM957 199h2v1h-2zM996 199h3v1h-3zM72 200h2v1h-2zM152 200h4v1h-4zM959 200h3v1h-3zM993 200h3v1h-3zM74 201h3v1h-3zM149 201h3v1h-3zM962 201h4v1h-4zM990 201h3v1h-3zM77 202h2v1h-2zM146 202h3v1h-3zM966 202h4v1h-4zM987 202h3v1h-3zM79 203h2v1h-2zM142 203h4v1h-4zM970 203h4v1h-4zM980 203h7v1h-7zM81 204h3v1h-3zM139 204h3v1h-3zM974 204h6v1h-6zM84 205h2v1h-2zM135 205h4v1h-4zM86 206h4v1h-4zM131 206h4v1h-4zM90 207h4v1h-4zM127 207h4v1h-4zM94 208h4v1h-4zM122 208h5v1h-5zM98 209h8v1h-8zM116 209h6v1h-6zM106 210h10v1h-10z" fill="#d8a020"/>
<rect x="3" y="1" width="1" height="349" fill="#000"/>
<rect x="3" y="1" width="1150" height="1" fill="#000"/>
<rect x="1152" y="1" width="1" height="347" fill="#000"/>
<rect x="49" y="1" width="1" height="1" fill="#c8c8c8"/>
<rect x="187" y="1" width="1" height="1" fill="#c8c8c8"/>
<rect x="325" y="1" width="1" height="1" fill="#c8c8c8"/>
<rect x="463" y="1" width="1" height="1" fill="#c8c8c8"/>
<rect x="601" y="1" width="1" height="1" fill="#c8c8c8"/>
<rect x="738" y="1" width="1" height="1" fill="#c8c8c8"/>
<rect x="876" y="1" width="1" height="1" fill="#c8c8c8"/>
<rect x="1014" y="1" width="1" height="1" fill="#c8c8c8"/>
<text transform="translate(50.6,13) scale(0.9,1.05)" font-size="12" fill="#000">3</text>
<path d="M57.5 13.5 L61.5 4.5" stroke="#000" stroke-width="1" fill="none" shape-rendering="auto"/>
<text transform="translate(62.1,13) scale(0.9,1.05)" font-size="12" fill="#000">1</text>
<text transform="translate(188.6,13) scale(0.9,1.05)" font-size="12" fill="#000">4</text>
<path d="M195.5 13.5 L199.5 4.5" stroke="#000" stroke-width="1" fill="none" shape-rendering="auto"/>
<text transform="translate(200.1,13) scale(0.9,1.05)" font-size="12" fill="#000">1</text>
<text transform="translate(326.6,13) scale(0.9,1.05)" font-size="12" fill="#000">5</text>
<path d="M333.5 13.5 L337.5 4.5" stroke="#000" stroke-width="1" fill="none" shape-rendering="auto"/>
<text transform="translate(338.1,13) scale(0.9,1.05)" font-size="12" fill="#000">1</text>
<text transform="translate(464.6,13) scale(0.9,1.05)" font-size="12" fill="#000">6</text>
<path d="M471.5 13.5 L475.5 4.5" stroke="#000" stroke-width="1" fill="none" shape-rendering="auto"/>
<text transform="translate(476.1,13) scale(0.9,1.05)" font-size="12" fill="#000">1</text>
<text transform="translate(602.6,13) scale(0.9,1.05)" font-size="12" fill="#000">7</text>
<path d="M609.5 13.5 L613.5 4.5" stroke="#000" stroke-width="1" fill="none" shape-rendering="auto"/>
<text transform="translate(614.1,13) scale(0.9,1.05)" font-size="12" fill="#000">1</text>
<text transform="translate(739.6,13) scale(0.9,1.05)" font-size="12" fill="#000">8</text>
<path d="M746.5 13.5 L750.5 4.5" stroke="#000" stroke-width="1" fill="none" shape-rendering="auto"/>
<text transform="translate(751.1,13) scale(0.9,1.05)" font-size="12" fill="#000">1</text>
<text transform="translate(877.6,13) scale(0.9,1.05)" font-size="12" fill="#000">9</text>
<path d="M884.5 13.5 L888.5 4.5" stroke="#000" stroke-width="1" fill="none" shape-rendering="auto"/>
<text transform="translate(889.1,13) scale(0.9,1.05)" font-size="12" fill="#000">1</text>
<text transform="translate(1015.6,13) scale(0.9,1.05)" font-size="12" fill="#000">1</text>
<text transform="translate(1021.6,13) scale(0.9,1.05)" font-size="12" fill="#000">0</text>
<path d="M1028.5 13.5 L1032.5 4.5" stroke="#000" stroke-width="1" fill="none" shape-rendering="auto"/>
<text transform="translate(1033.1,13) scale(0.9,1.05)" font-size="12" fill="#000">1</text>
<text transform="translate(1149.7,39.7) scale(0.9,1.05)" font-size="12" text-anchor="end" fill="#000">14000</text>
<text transform="translate(1149.7,100.7) scale(0.9,1.05)" font-size="12" text-anchor="end" fill="#000">12000</text>
<text transform="translate(1149.7,161.7) scale(0.9,1.05)" font-size="12" text-anchor="end" fill="#000">10000</text>
<text transform="translate(1149.7,222.7) scale(0.9,1.05)" font-size="12" text-anchor="end" fill="#000">8000</text>
<text transform="translate(1138,284.7) scale(0.9,1.05)" font-size="12" text-anchor="end" fill="#000">400</text>
<g transform="translate(1139,275)" fill="none" stroke="#000" stroke-width="1" shape-rendering="crispEdges"><path d="M0 1.5H11 M4 4.5H10 M9.5 4.5V10 M7 10.5H9.5"/></g>
<g transform="translate(1139,275)" fill="none" stroke="#000" stroke-width="1"><path d="M4.5 2 C4.5 6 3.5 8.5 0.5 11"/></g>
<text transform="translate(1138,316.7) scale(0.9,1.05)" font-size="12" text-anchor="end" fill="#000">200</text>
<g transform="translate(1139,307)" fill="none" stroke="#000" stroke-width="1" shape-rendering="crispEdges"><path d="M0 1.5H11 M4 4.5H10 M9.5 4.5V10 M7 10.5H9.5"/></g>
<g transform="translate(1139,307)" fill="none" stroke="#000" stroke-width="1"><path d="M4.5 2 C4.5 6 3.5 8.5 0.5 11"/></g>
<text transform="translate(1149.7,347.7) scale(0.9,1.05)" font-size="12" text-anchor="end" fill="#000">0</text>
<polygon points="663.75,539.58 668.25,539.50 673.75,540.50 683.75,536.75 688.75,536.46 690.00,536.38 705.00,535.50 725.00,533.75 735.00,530.50 745.00,526.75 755.00,521.25 765.00,520.38 775.00,519.50 783.75,518.62 795.00,517.50 810.00,513.75 815.00,512.50 820.00,511.25 825.00,510.00 835.00,508.50 845.00,507.00 847.50,506.19 855.00,503.75 865.00,502.88 875.00,502.00 895.00,498.25 905.00,491.25 915.00,488.25 925.00,483.75 935.00,481.50 945.00,480.32 956.25,479.00 966.25,471.25 976.25,461.50 986.25,457.75 996.25,450.50 1006.25,450.25 1016.25,450.00 1025.00,447.50 1036.25,446.75 1046.25,443.25 1056.25,446.25 1066.25,446.25 1072.50,446.25 1098.75,446.25 1107.50,448.75 1117.50,454.25 1127.50,455.75 1137.20,467.15 1137.50,467.50 1137.50,468.63 1137.20,468.25 1127.50,468.25 1117.50,468.25 1107.50,468.25 1098.75,468.25 1072.50,468.25 1066.25,469.25 1056.25,474.25 1046.25,476.25 1036.25,478.75 1025.00,480.75 1016.25,484.00 1006.25,491.75 996.25,499.00 986.25,509.75 976.25,510.50 966.25,518.50 956.25,523.75 945.00,525.00 935.00,529.25 925.00,532.00 915.00,535.00 905.00,538.75 895.00,544.25 875.00,544.42 865.00,544.50 855.00,545.00 847.50,548.00 845.00,548.40 835.00,550.00 825.00,552.50 820.00,553.75 815.00,554.62 810.00,555.50 795.00,555.50 783.75,555.50 775.00,552.50 765.00,549.25 755.00,549.25 745.00,549.25 735.00,549.25 725.00,549.25 705.00,549.25 690.00,549.25 688.75,548.25 683.75,548.25 673.75,548.25 668.25,548.25 663.75,548.25" fill="#c0c0c0"/>
<polygon points="1137.50,467.50 1138.75,471.42 1145.00,491.00 1146.00,497.56 1146.60,501.50 1147.60,502.83 1148.10,503.50 1157.00,510.30 1162.00,510.60 1162.00,502.50 1157.00,502.50 1148.10,495.59 1147.60,495.20 1146.60,493.89 1146.00,493.10 1145.00,489.94 1138.75,470.20 1137.50,468.63" fill="#888"/>
<rect x="64" y="368" width="1" height="346" fill="#c8c8c8"/>
<rect x="185" y="368" width="1" height="346" fill="#c8c8c8"/>
<rect x="306" y="368" width="1" height="346" fill="#c8c8c8"/>
<rect x="427" y="368" width="1" height="346" fill="#c8c8c8"/>
<rect x="548" y="368" width="1" height="346" fill="#c8c8c8"/>
<rect x="668" y="368" width="1" height="346" fill="#c8c8c8"/>
<rect x="789" y="368" width="1" height="346" fill="#c8c8c8"/>
<rect x="910" y="368" width="1" height="346" fill="#c8c8c8"/>
<rect x="1031" y="368" width="1" height="346" fill="#c8c8c8"/>
<rect x="14" y="406" width="1148" height="1" fill="#c8c8c8"/>
<rect x="14" y="467" width="1148" height="1" fill="#c8c8c8"/>
<rect x="14" y="528" width="1148" height="1" fill="#c8c8c8"/>
<rect x="14" y="589" width="1148" height="1" fill="#c8c8c8"/>
<rect x="14" y="651" width="1148" height="1" fill="#c8c8c8"/>
<rect x="14" y="683" width="1148" height="1" fill="#c8c8c8"/>
<rect x="14" y="714" width="1149" height="1" fill="#9c9ce4"/>
<rect x="14.5" y="679.5" width="10" height="35" fill="#99ccff" stroke="#0000cc" stroke-width="1"/>
<rect x="24.5" y="675.5" width="10" height="39" fill="#99ccff" stroke="#0000cc" stroke-width="1"/>
<rect x="34.5" y="668.5" width="10" height="46" fill="#99ccff" stroke="#0000cc" stroke-width="1"/>
<rect x="44.5" y="673.5" width="10" height="41" fill="#99ccff" stroke="#0000cc" stroke-width="1"/>
<rect x="54.5" y="676.5" width="10" height="38" fill="#99ccff" stroke="#0000cc" stroke-width="1"/>
<rect x="64.5" y="668.5" width="10" height="46" fill="#99ccff" stroke="#0000cc" stroke-width="1"/>
<rect x="74.5" y="674.5" width="10" height="40" fill="#99ccff" stroke="#0000cc" stroke-width="1"/>
<rect x="84.5" y="673.5" width="10" height="41" fill="#99ccff" stroke="#0000cc" stroke-width="1"/>
<rect x="94.5" y="670.5" width="10" height="44" fill="#99ccff" stroke="#0000cc" stroke-width="1"/>
<rect x="104.5" y="672.5" width="10" height="42" fill="#99ccff" stroke="#0000cc" stroke-width="1"/>
<rect x="114.5" y="666.5" width="10" height="48" fill="#99ccff" stroke="#0000cc" stroke-width="1"/>
<rect x="124.5" y="650.5" width="10" height="64" fill="#99ccff" stroke="#0000cc" stroke-width="1"/>
<rect x="134.5" y="669.5" width="11" height="45" fill="#99ccff" stroke="#0000cc" stroke-width="1"/>
<rect x="145.5" y="671.5" width="10" height="43" fill="#99ccff" stroke="#0000cc" stroke-width="1"/>
<rect x="155.5" y="656.5" width="10" height="58" fill="#99ccff" stroke="#0000cc" stroke-width="1"/>
<rect x="165.5" y="673.5" width="10" height="41" fill="#99ccff" stroke="#0000cc" stroke-width="1"/>
<rect x="175.5" y="675.5" width="10" height="39" fill="#99ccff" stroke="#0000cc" stroke-width="1"/>
<rect x="185.5" y="667.5" width="10" height="47" fill="#99ccff" stroke="#0000cc" stroke-width="1"/>
<rect x="195.5" y="675.5" width="10" height="39" fill="#99ccff" stroke="#0000cc" stroke-width="1"/>
<rect x="205.5" y="668.5" width="10" height="46" fill="#99ccff" stroke="#0000cc" stroke-width="1"/>
<rect x="215.5" y="669.5" width="10" height="45" fill="#99ccff" stroke="#0000cc" stroke-width="1"/>
<rect x="225.5" y="666.5" width="10" height="48" fill="#99ccff" stroke="#0000cc" stroke-width="1"/>
<rect x="235.5" y="665.5" width="10" height="49" fill="#99ccff" stroke="#0000cc" stroke-width="1"/>
<rect x="245.5" y="666.5" width="10" height="48" fill="#99ccff" stroke="#0000cc" stroke-width="1"/>
<rect x="255.5" y="675.5" width="10" height="39" fill="#99ccff" stroke="#0000cc" stroke-width="1"/>
<rect x="265.5" y="668.5" width="11" height="46" fill="#99ccff" stroke="#0000cc" stroke-width="1"/>
<rect x="276.5" y="664.5" width="10" height="50" fill="#99ccff" stroke="#0000cc" stroke-width="1"/>
<rect x="286.5" y="677.5" width="10" height="37" fill="#99ccff" stroke="#0000cc" stroke-width="1"/>
<rect x="296.5" y="671.5" width="10" height="43" fill="#99ccff" stroke="#0000cc" stroke-width="1"/>
<rect x="306.5" y="663.5" width="10" height="51" fill="#99ccff" stroke="#0000cc" stroke-width="1"/>
<rect x="316.5" y="670.5" width="10" height="44" fill="#99ccff" stroke="#0000cc" stroke-width="1"/>
<rect x="326.5" y="662.5" width="10" height="52" fill="#99ccff" stroke="#0000cc" stroke-width="1"/>
<rect x="336.5" y="664.5" width="10" height="50" fill="#99ccff" stroke="#0000cc" stroke-width="1"/>
<rect x="346.5" y="668.5" width="10" height="46" fill="#99ccff" stroke="#0000cc" stroke-width="1"/>
<rect x="356.5" y="670.5" width="10" height="44" fill="#99ccff" stroke="#0000cc" stroke-width="1"/>
<rect x="366.5" y="668.5" width="10" height="46" fill="#99ccff" stroke="#0000cc" stroke-width="1"/>
<rect x="376.5" y="672.5" width="10" height="42" fill="#99ccff" stroke="#0000cc" stroke-width="1"/>
<rect x="386.5" y="672.5" width="10" height="42" fill="#99ccff" stroke="#0000cc" stroke-width="1"/>
<rect x="396.5" y="665.5" width="10" height="49" fill="#99ccff" stroke="#0000cc" stroke-width="1"/>
<rect x="406.5" y="666.5" width="11" height="48" fill="#99ccff" stroke="#0000cc" stroke-width="1"/>
<rect x="417.5" y="666.5" width="10" height="48" fill="#99ccff" stroke="#0000cc" stroke-width="1"/>
<rect x="427.5" y="664.5" width="10" height="50" fill="#99ccff" stroke="#0000cc" stroke-width="1"/>
<rect x="437.5" y="668.5" width="10" height="46" fill="#99ccff" stroke="#0000cc" stroke-width="1"/>
<rect x="447.5" y="658.5" width="10" height="56" fill="#99ccff" stroke="#0000cc" stroke-width="1"/>
<rect x="457.5" y="659.5" width="10" height="55" fill="#99ccff" stroke="#0000cc" stroke-width="1"/>
<rect x="467.5" y="665.5" width="10" height="49" fill="#99ccff" stroke="#0000cc" stroke-width="1"/>
<rect x="477.5" y="665.5" width="10" height="49" fill="#99ccff" stroke="#0000cc" stroke-width="1"/>
<rect x="487.5" y="668.5" width="10" height="46" fill="#99ccff" stroke="#0000cc" stroke-width="1"/>
<rect x="497.5" y="663.5" width="10" height="51" fill="#99ccff" stroke="#0000cc" stroke-width="1"/>
<rect x="507.5" y="661.5" width="10" height="53" fill="#99ccff" stroke="#0000cc" stroke-width="1"/>
<rect x="517.5" y="655.5" width="10" height="59" fill="#99ccff" stroke="#0000cc" stroke-width="1"/>
<rect x="527.5" y="662.5" width="10" height="52" fill="#99ccff" stroke="#0000cc" stroke-width="1"/>
<rect x="537.5" y="665.5" width="11" height="49" fill="#99ccff" stroke="#0000cc" stroke-width="1"/>
<rect x="548.5" y="657.5" width="10" height="57" fill="#99ccff" stroke="#0000cc" stroke-width="1"/>
<rect x="558.5" y="664.5" width="10" height="50" fill="#99ccff" stroke="#0000cc" stroke-width="1"/>
<rect x="568.5" y="656.5" width="10" height="58" fill="#99ccff" stroke="#0000cc" stroke-width="1"/>
<rect x="578.5" y="666.5" width="10" height="48" fill="#99ccff" stroke="#0000cc" stroke-width="1"/>
<rect x="588.5" y="652.5" width="10" height="62" fill="#99ccff" stroke="#0000cc" stroke-width="1"/>
<rect x="598.5" y="652.5" width="10" height="62" fill="#99ccff" stroke="#0000cc" stroke-width="1"/>
<rect x="608.5" y="664.5" width="10" height="50" fill="#99ccff" stroke="#0000cc" stroke-width="1"/>
<rect x="618.5" y="663.5" width="10" height="51" fill="#99ccff" stroke="#0000cc" stroke-width="1"/>
<rect x="628.5" y="665.5" width="10" height="49" fill="#99ccff" stroke="#0000cc" stroke-width="1"/>
<rect x="638.5" y="659.5" width="10" height="55" fill="#99ccff" stroke="#0000cc" stroke-width="1"/>
<rect x="648.5" y="662.5" width="10" height="52" fill="#99ccff" stroke="#0000cc" stroke-width="1"/>
<rect x="658.5" y="671.5" width="10" height="43" fill="#99ccff" stroke="#0000cc" stroke-width="1"/>
<rect x="668.5" y="663.5" width="10" height="51" fill="#99ccff" stroke="#0000cc" stroke-width="1"/>
<rect x="678.5" y="667.5" width="11" height="47" fill="#99ccff" stroke="#0000cc" stroke-width="1"/>
<rect x="689.5" y="656.5" width="10" height="58" fill="#99ccff" stroke="#0000cc" stroke-width="1"/>
<rect x="699.5" y="666.5" width="10" height="48" fill="#99ccff" stroke="#0000cc" stroke-width="1"/>
<rect x="709.5" y="660.5" width="10" height="54" fill="#99ccff" stroke="#0000cc" stroke-width="1"/>
<rect x="719.5" y="660.5" width="10" height="54" fill="#99ccff" stroke="#0000cc" stroke-width="1"/>
<rect x="729.5" y="659.5" width="10" height="55" fill="#99ccff" stroke="#0000cc" stroke-width="1"/>
<rect x="739.5" y="645.5" width="10" height="69" fill="#99ccff" stroke="#0000cc" stroke-width="1"/>
<rect x="749.5" y="673.5" width="10" height="41" fill="#99ccff" stroke="#0000cc" stroke-width="1"/>
<rect x="759.5" y="666.5" width="10" height="48" fill="#99ccff" stroke="#0000cc" stroke-width="1"/>
<rect x="769.5" y="660.5" width="10" height="54" fill="#99ccff" stroke="#0000cc" stroke-width="1"/>
<rect x="779.5" y="673.5" width="10" height="41" fill="#99ccff" stroke="#0000cc" stroke-width="1"/>
<rect x="789.5" y="650.5" width="10" height="64" fill="#99ccff" stroke="#0000cc" stroke-width="1"/>
<rect x="799.5" y="666.5" width="10" height="48" fill="#99ccff" stroke="#0000cc" stroke-width="1"/>
<rect x="809.5" y="659.5" width="11" height="55" fill="#99ccff" stroke="#0000cc" stroke-width="1"/>
<rect x="820.5" y="669.5" width="10" height="45" fill="#99ccff" stroke="#0000cc" stroke-width="1"/>
<rect x="830.5" y="674.5" width="10" height="40" fill="#99ccff" stroke="#0000cc" stroke-width="1"/>
<rect x="840.5" y="668.5" width="10" height="46" fill="#99ccff" stroke="#0000cc" stroke-width="1"/>
<rect x="850.5" y="661.5" width="10" height="53" fill="#99ccff" stroke="#0000cc" stroke-width="1"/>
<rect x="860.5" y="678.5" width="10" height="36" fill="#99ccff" stroke="#0000cc" stroke-width="1"/>
<rect x="870.5" y="661.5" width="10" height="53" fill="#99ccff" stroke="#0000cc" stroke-width="1"/>
<rect x="880.5" y="653.5" width="10" height="61" fill="#99ccff" stroke="#0000cc" stroke-width="1"/>
<rect x="890.5" y="669.5" width="10" height="45" fill="#99ccff" stroke="#0000cc" stroke-width="1"/>
<rect x="900.5" y="668.5" width="10" height="46" fill="#99ccff" stroke="#0000cc" stroke-width="1"/>
<rect x="910.5" y="670.5" width="10" height="44" fill="#99ccff" stroke="#0000cc" stroke-width="1"/>
<rect x="920.5" y="667.5" width="10" height="47" fill="#99ccff" stroke="#0000cc" stroke-width="1"/>
<rect x="930.5" y="651.5" width="10" height="63" fill="#99ccff" stroke="#0000cc" stroke-width="1"/>
<rect x="940.5" y="661.5" width="11" height="53" fill="#99ccff" stroke="#0000cc" stroke-width="1"/>
<rect x="951.5" y="665.5" width="10" height="49" fill="#99ccff" stroke="#0000cc" stroke-width="1"/>
<rect x="961.5" y="669.5" width="10" height="45" fill="#99ccff" stroke="#0000cc" stroke-width="1"/>
<rect x="971.5" y="674.5" width="10" height="40" fill="#99ccff" stroke="#0000cc" stroke-width="1"/>
<rect x="981.5" y="674.5" width="10" height="40" fill="#99ccff" stroke="#0000cc" stroke-width="1"/>
<rect x="991.5" y="669.5" width="10" height="45" fill="#99ccff" stroke="#0000cc" stroke-width="1"/>
<rect x="1001.5" y="669.5" width="10" height="45" fill="#99ccff" stroke="#0000cc" stroke-width="1"/>
<rect x="1011.5" y="681.5" width="10" height="33" fill="#99ccff" stroke="#0000cc" stroke-width="1"/>
<rect x="1021.5" y="676.5" width="10" height="38" fill="#99ccff" stroke="#0000cc" stroke-width="1"/>
<rect x="1031.5" y="679.5" width="10" height="35" fill="#99ccff" stroke="#0000cc" stroke-width="1"/>
<rect x="1041.5" y="680.5" width="10" height="34" fill="#99ccff" stroke="#0000cc" stroke-width="1"/>
<rect x="1051.5" y="676.5" width="10" height="38" fill="#99ccff" stroke="#0000cc" stroke-width="1"/>
<rect x="1061.5" y="674.5" width="10" height="40" fill="#99ccff" stroke="#0000cc" stroke-width="1"/>
<rect x="1071.5" y="665.5" width="11" height="49" fill="#99ccff" stroke="#0000cc" stroke-width="1"/>
<rect x="19" y="509" width="1" height="4" fill="#0000cc"/>
<rect x="19" y="530" width="1" height="3" fill="#0000cc"/>
<rect x="14" y="512" width="11" height="19" fill="#0000cc"/>
<rect x="29" y="522" width="1" height="9" fill="#0000cc"/>
<rect x="29" y="563" width="1" height="25" fill="#0000cc"/>
<rect x="24" y="530" width="11" height="34" fill="#0000cc"/>
<rect x="39" y="540" width="1" height="17" fill="#0000cc"/>
<rect x="39" y="563" width="1" height="5" fill="#0000cc"/>
<rect x="34.5" y="556.5" width="10" height="7" fill="#fff" stroke="#0000cc" stroke-width="1"/>
<rect x="49" y="528" width="1" height="6" fill="#0000cc"/>
<rect x="49" y="556" width="1" height="3" fill="#0000cc"/>
<rect x="44.5" y="533.5" width="10" height="23" fill="#fff" stroke="#0000cc" stroke-width="1"/>
<rect x="59" y="522" width="1" height="6" fill="#0000cc"/>
<rect x="59" y="533" width="1" height="5" fill="#0000cc"/>
<rect x="54.5" y="527.5" width="10" height="6" fill="#fff" stroke="#0000cc" stroke-width="1"/>
<rect x="69" y="518" width="1" height="10" fill="#0000cc"/>
<rect x="69" y="530" width="1" height="13" fill="#0000cc"/>
<rect x="64" y="527" width="11" height="4" fill="#0000cc"/>
<rect x="79" y="520" width="1" height="6" fill="#0000cc"/>
<rect x="79" y="530" width="1" height="8" fill="#0000cc"/>
<rect x="74.5" y="525.5" width="10" height="5" fill="#fff" stroke="#0000cc" stroke-width="1"/>
<rect x="89" y="507" width="1" height="10" fill="#0000cc"/>
<rect x="84.5" y="516.5" width="10" height="9" fill="#fff" stroke="#0000cc" stroke-width="1"/>
<rect x="99" y="530" width="1" height="5" fill="#0000cc"/>
<rect x="94" y="516" width="11" height="15" fill="#0000cc"/>
<rect x="109" y="517" width="1" height="13" fill="#0000cc"/>
<rect x="109" y="530" width="1" height="5" fill="#0000cc"/>
<rect x="104" y="529" width="11" height="2" fill="#0000cc"/>
<rect x="119" y="528" width="1" height="3" fill="#0000cc"/>
<rect x="119" y="551" width="1" height="11" fill="#0000cc"/>
<rect x="114" y="530" width="11" height="22" fill="#0000cc"/>
<rect x="129" y="546" width="1" height="6" fill="#0000cc"/>
<rect x="129" y="567" width="1" height="37" fill="#0000cc"/>
<rect x="124" y="551" width="11" height="17" fill="#0000cc"/>
<rect x="139" y="556" width="1" height="12" fill="#0000cc"/>
<rect x="139" y="569" width="1" height="20" fill="#0000cc"/>
<rect x="134" y="567" width="11" height="3" fill="#0000cc"/>
<rect x="150" y="567" width="1" height="3" fill="#0000cc"/>
<rect x="150" y="601" width="1" height="5" fill="#0000cc"/>
<rect x="145" y="569" width="11" height="33" fill="#0000cc"/>
<rect x="160" y="572" width="1" height="6" fill="#0000cc"/>
<rect x="160" y="601" width="1" height="13" fill="#0000cc"/>
<rect x="155.5" y="577.5" width="10" height="24" fill="#fff" stroke="#0000cc" stroke-width="1"/>
<rect x="170" y="560" width="1" height="3" fill="#0000cc"/>
<rect x="170" y="577" width="1" height="4" fill="#0000cc"/>
<rect x="165.5" y="562.5" width="10" height="15" fill="#fff" stroke="#0000cc" stroke-width="1"/>
<rect x="180" y="557" width="1" height="5" fill="#0000cc"/>
<rect x="180" y="578" width="1" height="5" fill="#0000cc"/>
<rect x="175" y="561" width="11" height="18" fill="#0000cc"/>
<rect x="190" y="562" width="1" height="18" fill="#0000cc"/>
<rect x="190" y="587" width="1" height="5" fill="#0000cc"/>
<rect x="185" y="579" width="11" height="9" fill="#0000cc"/>
<rect x="200" y="584" width="1" height="4" fill="#0000cc"/>
<rect x="200" y="591" width="1" height="10" fill="#0000cc"/>
<rect x="195" y="587" width="11" height="5" fill="#0000cc"/>
<rect x="210" y="573" width="1" height="17" fill="#0000cc"/>
<rect x="210" y="592" width="1" height="16" fill="#0000cc"/>
<rect x="205.5" y="589.5" width="10" height="3" fill="#fff" stroke="#0000cc" stroke-width="1"/>
<rect x="215.5" y="574.5" width="10" height="15" fill="#fff" stroke="#0000cc" stroke-width="1"/>
<rect x="230" y="561" width="1" height="3" fill="#0000cc"/>
<rect x="230" y="574" width="1" height="6" fill="#0000cc"/>
<rect x="225.5" y="563.5" width="10" height="11" fill="#fff" stroke="#0000cc" stroke-width="1"/>
<rect x="240" y="548" width="1" height="12" fill="#0000cc"/>
<rect x="235.5" y="559.5" width="10" height="4" fill="#fff" stroke="#0000cc" stroke-width="1"/>
<rect x="250" y="546" width="1" height="6" fill="#0000cc"/>
<rect x="250" y="559" width="1" height="3" fill="#0000cc"/>
<rect x="245.5" y="551.5" width="10" height="8" fill="#fff" stroke="#0000cc" stroke-width="1"/>
<rect x="260" y="543" width="1" height="4" fill="#0000cc"/>
<rect x="260" y="551" width="1" height="9" fill="#0000cc"/>
<rect x="255.5" y="546.5" width="10" height="5" fill="#fff" stroke="#0000cc" stroke-width="1"/>
<rect x="270" y="538" width="1" height="9" fill="#0000cc"/>
<rect x="265" y="546" width="11" height="5" fill="#0000cc"/>
<rect x="281" y="532" width="1" height="3" fill="#0000cc"/>
<rect x="276.5" y="534.5" width="10" height="16" fill="#fff" stroke="#0000cc" stroke-width="1"/>
<rect x="291" y="531" width="1" height="4" fill="#0000cc"/>
<rect x="291" y="535" width="1" height="7" fill="#0000cc"/>
<rect x="286.5" y="534.5" width="10" height="1" fill="#fff" stroke="#0000cc" stroke-width="1"/>
<rect x="296.5" y="514.5" width="10" height="21" fill="#fff" stroke="#0000cc" stroke-width="1"/>
<rect x="311" y="507" width="1" height="7" fill="#0000cc"/>
<rect x="311" y="514" width="1" height="4" fill="#0000cc"/>
<rect x="306.5" y="513.5" width="10" height="1" fill="#fff" stroke="#0000cc" stroke-width="1"/>
<rect x="321" y="505" width="1" height="6" fill="#0000cc"/>
<rect x="321" y="513" width="1" height="3" fill="#0000cc"/>
<rect x="316.5" y="510.5" width="10" height="3" fill="#fff" stroke="#0000cc" stroke-width="1"/>
<rect x="331" y="507" width="1" height="4" fill="#0000cc"/>
<rect x="331" y="517" width="1" height="12" fill="#0000cc"/>
<rect x="326" y="510" width="11" height="8" fill="#0000cc"/>
<rect x="341" y="511" width="1" height="7" fill="#0000cc"/>
<rect x="336" y="517" width="11" height="5" fill="#0000cc"/>
<rect x="351" y="516" width="1" height="6" fill="#0000cc"/>
<rect x="351" y="522" width="1" height="12" fill="#0000cc"/>
<rect x="346" y="521" width="11" height="2" fill="#0000cc"/>
<rect x="361" y="513" width="1" height="3" fill="#0000cc"/>
<rect x="361" y="522" width="1" height="3" fill="#0000cc"/>
<rect x="356.5" y="515.5" width="10" height="7" fill="#fff" stroke="#0000cc" stroke-width="1"/>
<rect x="371" y="514" width="1" height="2" fill="#0000cc"/>
<rect x="371" y="523" width="1" height="9" fill="#0000cc"/>
<rect x="366" y="515" width="11" height="9" fill="#0000cc"/>
<rect x="381" y="524" width="1" height="12" fill="#0000cc"/>
<rect x="376" y="523" width="11" height="2" fill="#0000cc"/>
<rect x="391" y="517" width="1" height="7" fill="#0000cc"/>
<rect x="391" y="526" width="1" height="3" fill="#0000cc"/>
<rect x="386" y="523" width="11" height="4" fill="#0000cc"/>
<rect x="401" y="520" width="1" height="7" fill="#0000cc"/>
<rect x="401" y="527" width="1" height="11" fill="#0000cc"/>
<rect x="396" y="526" width="11" height="2" fill="#0000cc"/>
<rect x="411" y="510" width="1" height="6" fill="#0000cc"/>
<rect x="411" y="527" width="1" height="2" fill="#0000cc"/>
<rect x="406.5" y="515.5" width="10" height="12" fill="#fff" stroke="#0000cc" stroke-width="1"/>
<rect x="422" y="502" width="1" height="3" fill="#0000cc"/>
<rect x="417.5" y="504.5" width="10" height="11" fill="#fff" stroke="#0000cc" stroke-width="1"/>
<rect x="432" y="502" width="1" height="3" fill="#0000cc"/>
<rect x="432" y="513" width="1" height="4" fill="#0000cc"/>
<rect x="427" y="504" width="11" height="10" fill="#0000cc"/>
<rect x="442" y="502" width="1" height="4" fill="#0000cc"/>
<rect x="437.5" y="505.5" width="10" height="8" fill="#fff" stroke="#0000cc" stroke-width="1"/>
<rect x="452" y="498" width="1" height="8" fill="#0000cc"/>
<rect x="452" y="513" width="1" height="3" fill="#0000cc"/>
<rect x="447" y="505" width="11" height="9" fill="#0000cc"/>
<rect x="462" y="511" width="1" height="3" fill="#0000cc"/>
<rect x="462" y="521" width="1" height="8" fill="#0000cc"/>
<rect x="457" y="513" width="11" height="9" fill="#0000cc"/>
<rect x="472" y="511" width="1" height="4" fill="#0000cc"/>
<rect x="472" y="522" width="1" height="5" fill="#0000cc"/>
<rect x="467.5" y="514.5" width="10" height="8" fill="#fff" stroke="#0000cc" stroke-width="1"/>
<rect x="482" y="508" width="1" height="7" fill="#0000cc"/>
<rect x="477" y="514" width="11" height="7" fill="#0000cc"/>
<rect x="492" y="506" width="1" height="4" fill="#0000cc"/>
<rect x="492" y="520" width="1" height="4" fill="#0000cc"/>
<rect x="487.5" y="509.5" width="10" height="11" fill="#fff" stroke="#0000cc" stroke-width="1"/>
<rect x="502" y="506" width="1" height="4" fill="#0000cc"/>
<rect x="502" y="513" width="1" height="5" fill="#0000cc"/>
<rect x="497" y="509" width="11" height="5" fill="#0000cc"/>
<rect x="512" y="507" width="1" height="5" fill="#0000cc"/>
<rect x="512" y="513" width="1" height="4" fill="#0000cc"/>
<rect x="507.5" y="511.5" width="10" height="2" fill="#fff" stroke="#0000cc" stroke-width="1"/>
<rect x="522" y="510" width="1" height="2" fill="#0000cc"/>
<rect x="522" y="515" width="1" height="9" fill="#0000cc"/>
<rect x="517" y="511" width="11" height="5" fill="#0000cc"/>
<rect x="532" y="499" width="1" height="6" fill="#0000cc"/>
<rect x="527.5" y="504.5" width="10" height="11" fill="#fff" stroke="#0000cc" stroke-width="1"/>
<rect x="542" y="499" width="1" height="6" fill="#0000cc"/>
<rect x="537" y="504" width="11" height="3" fill="#0000cc"/>
<rect x="553" y="496" width="1" height="7" fill="#0000cc"/>
<rect x="553" y="506" width="1" height="3" fill="#0000cc"/>
<rect x="548.5" y="502.5" width="10" height="4" fill="#fff" stroke="#0000cc" stroke-width="1"/>
<rect x="563" y="493" width="1" height="6" fill="#0000cc"/>
<rect x="563" y="502" width="1" height="4" fill="#0000cc"/>
<rect x="558.5" y="498.5" width="10" height="4" fill="#fff" stroke="#0000cc" stroke-width="1"/>
<rect x="573" y="487" width="1" height="8" fill="#0000cc"/>
<rect x="573" y="498" width="1" height="3" fill="#0000cc"/>
<rect x="568.5" y="494.5" width="10" height="4" fill="#fff" stroke="#0000cc" stroke-width="1"/>
<rect x="583" y="484" width="1" height="3" fill="#0000cc"/>
<rect x="583" y="494" width="1" height="3" fill="#0000cc"/>
<rect x="578.5" y="486.5" width="10" height="8" fill="#fff" stroke="#0000cc" stroke-width="1"/>
<rect x="593" y="477" width="1" height="10" fill="#0000cc"/>
<rect x="593" y="492" width="1" height="5" fill="#0000cc"/>
<rect x="588" y="486" width="11" height="7" fill="#0000cc"/>
<rect x="603" y="489" width="1" height="4" fill="#0000cc"/>
<rect x="603" y="493" width="1" height="15" fill="#0000cc"/>
<rect x="598" y="492" width="11" height="2" fill="#0000cc"/>
<rect x="613" y="489" width="1" height="4" fill="#0000cc"/>
<rect x="613" y="493" width="1" height="14" fill="#0000cc"/>
<rect x="608.5" y="492.5" width="10" height="1" fill="#fff" stroke="#0000cc" stroke-width="1"/>
<rect x="623" y="484" width="1" height="3" fill="#0000cc"/>
<rect x="623" y="492" width="1" height="5" fill="#0000cc"/>
<rect x="618.5" y="486.5" width="10" height="6" fill="#fff" stroke="#0000cc" stroke-width="1"/>
<rect x="633" y="474" width="1" height="4" fill="#0000cc"/>
<rect x="633" y="486" width="1" height="3" fill="#0000cc"/>
<rect x="628.5" y="477.5" width="10" height="9" fill="#fff" stroke="#0000cc" stroke-width="1"/>
<rect x="643" y="462" width="1" height="4" fill="#0000cc"/>
<rect x="643" y="477" width="1" height="2" fill="#0000cc"/>
<rect x="638.5" y="465.5" width="10" height="12" fill="#fff" stroke="#0000cc" stroke-width="1"/>
<rect x="653" y="456" width="1" height="5" fill="#0000cc"/>
<rect x="653" y="465" width="1" height="4" fill="#0000cc"/>
<rect x="648.5" y="460.5" width="10" height="5" fill="#fff" stroke="#0000cc" stroke-width="1"/>
<rect x="663" y="451" width="1" height="3" fill="#0000cc"/>
<rect x="663" y="460" width="1" height="5" fill="#0000cc"/>
<rect x="658.5" y="453.5" width="10" height="7" fill="#fff" stroke="#0000cc" stroke-width="1"/>
<rect x="673" y="446" width="1" height="3" fill="#0000cc"/>
<rect x="673" y="453" width="1" height="5" fill="#0000cc"/>
<rect x="668.5" y="448.5" width="10" height="5" fill="#fff" stroke="#0000cc" stroke-width="1"/>
<rect x="683" y="443" width="1" height="6" fill="#0000cc"/>
<rect x="683" y="459" width="1" height="7" fill="#0000cc"/>
<rect x="678" y="448" width="11" height="12" fill="#0000cc"/>
<rect x="694" y="452" width="1" height="5" fill="#0000cc"/>
<rect x="694" y="459" width="1" height="11" fill="#0000cc"/>
<rect x="689.5" y="456.5" width="10" height="3" fill="#fff" stroke="#0000cc" stroke-width="1"/>
<rect x="704" y="432" width="1" height="4" fill="#0000cc"/>
<rect x="704" y="456" width="1" height="2" fill="#0000cc"/>
<rect x="699.5" y="435.5" width="10" height="21" fill="#fff" stroke="#0000cc" stroke-width="1"/>
<rect x="714" y="416" width="1" height="3" fill="#0000cc"/>
<rect x="709.5" y="418.5" width="10" height="17" fill="#fff" stroke="#0000cc" stroke-width="1"/>
<rect x="724" y="416" width="1" height="3" fill="#0000cc"/>
<rect x="724" y="424" width="1" height="6" fill="#0000cc"/>
<rect x="719" y="418" width="11" height="7" fill="#0000cc"/>
<rect x="734" y="406" width="1" height="19" fill="#0000cc"/>
<rect x="734" y="430" width="1" height="2" fill="#0000cc"/>
<rect x="729" y="424" width="11" height="7" fill="#0000cc"/>
<rect x="744" y="416" width="1" height="11" fill="#0000cc"/>
<rect x="744" y="431" width="1" height="21" fill="#0000cc"/>
<rect x="739.5" y="426.5" width="10" height="5" fill="#fff" stroke="#0000cc" stroke-width="1"/>
<rect x="754" y="426" width="1" height="11" fill="#0000cc"/>
<rect x="749.5" y="409.5" width="10" height="17" fill="#fff" stroke="#0000cc" stroke-width="1"/>
<rect x="764" y="400" width="1" height="9" fill="#0000cc"/>
<rect x="764" y="409" width="1" height="16" fill="#0000cc"/>
<rect x="759.5" y="408.5" width="10" height="1" fill="#fff" stroke="#0000cc" stroke-width="1"/>
<rect x="774" y="425" width="1" height="21" fill="#0000cc"/>
<rect x="769" y="409" width="11" height="17" fill="#0000cc"/>
<rect x="784" y="413" width="1" height="14" fill="#0000cc"/>
<rect x="784" y="429" width="1" height="6" fill="#0000cc"/>
<rect x="779" y="426" width="11" height="4" fill="#0000cc"/>
<rect x="794" y="428" width="1" height="2" fill="#0000cc"/>
<rect x="794" y="447" width="1" height="32" fill="#0000cc"/>
<rect x="789" y="429" width="11" height="19" fill="#0000cc"/>
<rect x="804" y="444" width="1" height="5" fill="#0000cc"/>
<rect x="804" y="459" width="1" height="7" fill="#0000cc"/>
<rect x="799" y="448" width="11" height="12" fill="#0000cc"/>
<rect x="814" y="448" width="1" height="12" fill="#0000cc"/>
<rect x="814" y="460" width="1" height="16" fill="#0000cc"/>
<rect x="809.5" y="459.5" width="10" height="1" fill="#fff" stroke="#0000cc" stroke-width="1"/>
<rect x="825" y="436" width="1" height="7" fill="#0000cc"/>
<rect x="820.5" y="442.5" width="10" height="17" fill="#fff" stroke="#0000cc" stroke-width="1"/>
<rect x="835" y="434" width="1" height="9" fill="#0000cc"/>
<rect x="835" y="447" width="1" height="8" fill="#0000cc"/>
<rect x="830" y="442" width="11" height="6" fill="#0000cc"/>
<rect x="845" y="487" width="1" height="3" fill="#0000cc"/>
<rect x="840" y="448" width="11" height="40" fill="#0000cc"/>
<rect x="855" y="476" width="1" height="11" fill="#0000cc"/>
<rect x="855" y="487" width="1" height="17" fill="#0000cc"/>
<rect x="850" y="486" width="11" height="2" fill="#0000cc"/>
<rect x="865" y="471" width="1" height="11" fill="#0000cc"/>
<rect x="865" y="486" width="1" height="6" fill="#0000cc"/>
<rect x="860.5" y="481.5" width="10" height="5" fill="#fff" stroke="#0000cc" stroke-width="1"/>
<rect x="875" y="474" width="1" height="8" fill="#0000cc"/>
<rect x="875" y="502" width="1" height="16" fill="#0000cc"/>
<rect x="870" y="481" width="11" height="22" fill="#0000cc"/>
<rect x="885" y="549" width="1" height="45" fill="#0000cc"/>
<rect x="880" y="501" width="11" height="49" fill="#0000cc"/>
<rect x="895" y="539" width="1" height="11" fill="#0000cc"/>
<rect x="895" y="564" width="1" height="43" fill="#0000cc"/>
<rect x="890" y="549" width="11" height="16" fill="#0000cc"/>
<rect x="905" y="558" width="1" height="7" fill="#0000cc"/>
<rect x="905" y="565" width="1" height="21" fill="#0000cc"/>
<rect x="900" y="564" width="11" height="2" fill="#0000cc"/>
<rect x="915" y="556" width="1" height="10" fill="#0000cc"/>
<rect x="915" y="589" width="1" height="4" fill="#0000cc"/>
<rect x="910" y="565" width="11" height="25" fill="#0000cc"/>
<rect x="925" y="579" width="1" height="11" fill="#0000cc"/>
<rect x="920" y="589" width="11" height="29" fill="#0000cc"/>
<rect x="935" y="591" width="1" height="11" fill="#0000cc"/>
<rect x="935" y="618" width="1" height="18" fill="#0000cc"/>
<rect x="930.5" y="601.5" width="10" height="17" fill="#fff" stroke="#0000cc" stroke-width="1"/>
<rect x="945" y="580" width="1" height="5" fill="#0000cc"/>
<rect x="945" y="601" width="1" height="5" fill="#0000cc"/>
<rect x="940.5" y="584.5" width="10" height="17" fill="#fff" stroke="#0000cc" stroke-width="1"/>
<rect x="956" y="571" width="1" height="4" fill="#0000cc"/>
<rect x="956" y="584" width="1" height="3" fill="#0000cc"/>
<rect x="951.5" y="574.5" width="10" height="10" fill="#fff" stroke="#0000cc" stroke-width="1"/>
<rect x="966" y="562" width="1" height="13" fill="#0000cc"/>
<rect x="966" y="575" width="1" height="7" fill="#0000cc"/>
<rect x="961.5" y="574.5" width="10" height="1" fill="#fff" stroke="#0000cc" stroke-width="1"/>
<rect x="976" y="551" width="1" height="3" fill="#0000cc"/>
<rect x="976" y="575" width="1" height="12" fill="#0000cc"/>
<rect x="971.5" y="553.5" width="10" height="22" fill="#fff" stroke="#0000cc" stroke-width="1"/>
<rect x="986" y="539" width="1" height="5" fill="#0000cc"/>
<rect x="986" y="553" width="1" height="3" fill="#0000cc"/>
<rect x="981.5" y="543.5" width="10" height="10" fill="#fff" stroke="#0000cc" stroke-width="1"/>
<rect x="996" y="531" width="1" height="7" fill="#0000cc"/>
<rect x="996" y="544" width="1" height="8" fill="#0000cc"/>
<rect x="991.5" y="537.5" width="10" height="7" fill="#fff" stroke="#0000cc" stroke-width="1"/>
<rect x="1006" y="524" width="1" height="14" fill="#0000cc"/>
<rect x="1006" y="537" width="1" height="9" fill="#0000cc"/>
<rect x="1001" y="537" width="11" height="1" fill="#0000cc"/>
<rect x="1016" y="513" width="1" height="6" fill="#0000cc"/>
<rect x="1016" y="537" width="1" height="2" fill="#0000cc"/>
<rect x="1011.5" y="518.5" width="10" height="19" fill="#fff" stroke="#0000cc" stroke-width="1"/>
<rect x="1026" y="509" width="1" height="7" fill="#0000cc"/>
<rect x="1026" y="518" width="1" height="4" fill="#0000cc"/>
<rect x="1021.5" y="515.5" width="10" height="3" fill="#fff" stroke="#0000cc" stroke-width="1"/>
<rect x="1036" y="506" width="1" height="10" fill="#0000cc"/>
<rect x="1031" y="515" width="11" height="12" fill="#0000cc"/>
<rect x="1046" y="515" width="1" height="4" fill="#0000cc"/>
<rect x="1046" y="526" width="1" height="8" fill="#0000cc"/>
<rect x="1041.5" y="518.5" width="10" height="8" fill="#fff" stroke="#0000cc" stroke-width="1"/>
<rect x="1056" y="499" width="1" height="4" fill="#0000cc"/>
<rect x="1051.5" y="502.5" width="10" height="16" fill="#fff" stroke="#0000cc" stroke-width="1"/>
<rect x="1066" y="490" width="1" height="8" fill="#0000cc"/>
<rect x="1061.5" y="497.5" width="10" height="5" fill="#fff" stroke="#0000cc" stroke-width="1"/>
<rect x="1076" y="491" width="1" height="7" fill="#0000cc"/>
<rect x="1076" y="524" width="1" height="12" fill="#0000cc"/>
<rect x="1071" y="497" width="11" height="28" fill="#0000cc"/>
<path d="M794 453h72v1h-72zM791 454h3v1h-3zM866 454h2v1h-2zM788 455h3v1h-3zM868 455h2v1h-2zM785 456h3v1h-3zM870 456h2v1h-2zM782 457h3v1h-3zM872 457h2v1h-2zM780 458h2v1h-2zM874 458h2v1h-2zM778 459h2v1h-2zM875 459h1v1h-1zM776 460h2v1h-2zM876 460h1v1h-1zM770 461h6v1h-6zM876 461h1v1h-1zM760 462h10v1h-10zM876 462h1v1h-1zM735 463h25v1h-25zM877 463h1v1h-1zM733 464h2v1h-2zM877 464h1v1h-1zM732 465h1v1h-1zM877 465h1v1h-1zM730 466h2v1h-2zM878 466h1v1h-1zM729 467h1v1h-1zM878 467h1v1h-1zM728 468h1v1h-1zM879 468h1v1h-1zM726 469h2v1h-2zM879 469h1v1h-1zM720 470h6v1h-6zM879 470h1v1h-1zM715 471h5v1h-5zM880 471h1v1h-1zM713 472h2v1h-2zM880 472h1v1h-1zM712 473h1v1h-1zM880 473h1v1h-1zM710 474h2v1h-2zM881 474h1v1h-1zM709 475h1v1h-1zM881 475h1v1h-1zM708 476h1v1h-1zM881 476h1v1h-1zM706 477h2v1h-2zM881 477h1v1h-1zM705 478h1v1h-1zM882 478h1v1h-1zM703 479h2v1h-2zM882 479h1v1h-1zM701 480h2v1h-2zM882 480h1v1h-1zM699 481h2v1h-2zM882 481h1v1h-1zM697 482h2v1h-2zM883 482h1v1h-1zM695 483h2v1h-2zM883 483h1v1h-1zM682 484h13v1h-13zM883 484h1v1h-1zM676 485h6v1h-6zM883 485h1v1h-1zM671 486h5v1h-5zM884 486h1v1h-1zM666 487h5v1h-5zM884 487h1v1h-1zM663 488h3v1h-3zM884 488h1v1h-1zM662 489h1v1h-1zM884 489h1v1h-1zM660 490h2v1h-2zM885 490h1v1h-1zM659 491h1v1h-1zM885 491h1v1h-1zM658 492h1v1h-1zM885 492h1v1h-1zM657 493h1v1h-1zM885 493h1v1h-1zM655 494h2v1h-2zM886 494h1v1h-1zM654 495h1v1h-1zM886 495h1v1h-1zM652 496h2v1h-2zM886 496h1v1h-1zM648 497h4v1h-4zM887 497h2v1h-2zM645 498h3v1h-3zM889 498h1v1h-1zM643 499h2v1h-2zM890 499h2v1h-2zM641 500h2v1h-2zM892 500h1v1h-1zM639 501h2v1h-2zM893 501h2v1h-2zM637 502h2v1h-2zM895 502h21v1h-21zM635 503h2v1h-2zM916 503h2v1h-2zM633 504h2v1h-2zM918 504h2v1h-2zM627 505h6v1h-6zM920 505h1v1h-1zM592 506h35v1h-35zM921 506h2v1h-2zM590 507h2v1h-2zM923 507h2v1h-2zM587 508h3v1h-3zM925 508h1v1h-1zM585 509h2v1h-2zM926 509h1v1h-1zM578 510h7v1h-7zM927 510h1v1h-1zM571 511h7v1h-7zM928 511h1v1h-1zM566 512h5v1h-5zM929 512h1v1h-1zM561 513h5v1h-5zM930 513h2v1h-2zM556 514h5v1h-5zM932 514h1v1h-1zM551 515h5v1h-5zM933 515h1v1h-1zM545 516h6v1h-6zM934 516h1v1h-1zM542 517h3v1h-3zM935 517h86v1h-86zM540 518h2v1h-2zM1021 518h2v1h-2zM538 519h2v1h-2zM1023 519h2v1h-2zM536 520h2v1h-2zM1025 520h2v1h-2zM534 521h2v1h-2zM1027 521h4v1h-4zM531 522h3v1h-3zM1031 522h4v1h-4zM525 523h6v1h-6zM1035 523h2v1h-2zM521 524h4v1h-4zM1037 524h1v1h-1zM517 525h4v1h-4zM1038 525h2v1h-2zM514 526h3v1h-3zM1040 526h1v1h-1zM510 527h4v1h-4zM1041 527h1v1h-1zM505 528h5v1h-5zM1042 528h1v1h-1zM497 529h8v1h-8zM1043 529h2v1h-2zM492 530h5v1h-5zM1045 530h1v1h-1zM490 531h2v1h-2zM1046 531h3v1h-3zM489 532h1v1h-1zM1049 532h5v1h-5zM487 533h2v1h-2zM1054 533h23v1h-23zM486 534h1v1h-1zM485 535h1v1h-1zM483 536h2v1h-2zM482 537h1v1h-1zM480 538h2v1h-2zM478 539h2v1h-2zM477 540h1v1h-1zM475 541h2v1h-2zM473 542h2v1h-2zM139 543h6v1h-6zM472 543h1v1h-1zM145 544h7v1h-7zM471 544h1v1h-1zM152 545h2v1h-2zM469 545h2v1h-2zM154 546h3v1h-3zM468 546h1v1h-1zM157 547h2v1h-2zM467 547h1v1h-1zM159 548h4v1h-4zM466 548h1v1h-1zM163 549h80v1h-80zM464 549h2v1h-2zM243 550h5v1h-5zM463 550h1v1h-1zM248 551h3v1h-3zM457 551h6v1h-6zM251 552h1v1h-1zM447 552h10v1h-10zM252 553h2v1h-2zM420 553h27v1h-27zM254 554h1v1h-1zM418 554h2v1h-2zM255 555h1v1h-1zM416 555h2v1h-2zM256 556h1v1h-1zM415 556h1v1h-1zM257 557h2v1h-2zM413 557h2v1h-2zM259 558h1v1h-1zM317 558h96v1h-96zM260 559h57v1h-57z" fill="#66cc99"/>
<path d="M783 429h1v1h-1zM781 430h2v1h-2zM784 430h1v1h-1zM779 431h2v1h-2zM785 431h2v1h-2zM778 432h1v1h-1zM787 432h1v1h-1zM776 433h2v1h-2zM788 433h1v1h-1zM770 434h6v1h-6zM789 434h2v1h-2zM760 435h10v1h-10zM791 435h1v1h-1zM735 436h25v1h-25zM792 436h1v1h-1zM734 437h1v1h-1zM793 437h2v1h-2zM733 438h1v1h-1zM795 438h41v1h-41zM732 439h1v1h-1zM836 439h2v1h-2zM731 440h1v1h-1zM838 440h2v1h-2zM730 441h1v1h-1zM840 441h2v1h-2zM729 442h1v1h-1zM842 442h2v1h-2zM728 443h1v1h-1zM844 443h2v1h-2zM727 444h1v1h-1zM846 444h1v1h-1zM726 445h1v1h-1zM847 445h1v1h-1zM724 446h2v1h-2zM848 446h1v1h-1zM722 447h2v1h-2zM849 447h1v1h-1zM720 448h2v1h-2zM850 448h1v1h-1zM718 449h2v1h-2zM850 449h1v1h-1zM716 450h2v1h-2zM851 450h1v1h-1zM715 451h1v1h-1zM852 451h1v1h-1zM714 452h1v1h-1zM853 452h1v1h-1zM713 453h1v1h-1zM854 453h1v1h-1zM712 454h1v1h-1zM855 454h2v1h-2zM711 455h1v1h-1zM857 455h2v1h-2zM710 456h1v1h-1zM859 456h3v1h-3zM710 457h1v1h-1zM862 457h2v1h-2zM709 458h1v1h-1zM864 458h2v1h-2zM708 459h1v1h-1zM866 459h1v1h-1zM707 460h1v1h-1zM867 460h1v1h-1zM706 461h1v1h-1zM868 461h1v1h-1zM705 462h1v1h-1zM868 462h1v1h-1zM704 463h1v1h-1zM869 463h1v1h-1zM703 464h1v1h-1zM870 464h1v1h-1zM702 465h1v1h-1zM871 465h1v1h-1zM701 466h1v1h-1zM872 466h1v1h-1zM700 467h1v1h-1zM873 467h1v1h-1zM700 468h1v1h-1zM873 468h1v1h-1zM699 469h1v1h-1zM874 469h1v1h-1zM698 470h1v1h-1zM875 470h1v1h-1zM697 471h1v1h-1zM875 471h1v1h-1zM696 472h1v1h-1zM875 472h1v1h-1zM695 473h1v1h-1zM876 473h1v1h-1zM690 474h5v1h-5zM876 474h1v1h-1zM679 475h11v1h-11zM876 475h1v1h-1zM671 476h8v1h-8zM876 476h1v1h-1zM666 477h5v1h-5zM877 477h1v1h-1zM661 478h5v1h-5zM877 478h1v1h-1zM656 479h5v1h-5zM877 479h1v1h-1zM652 480h4v1h-4zM877 480h1v1h-1zM648 481h4v1h-4zM877 481h1v1h-1zM645 482h3v1h-3zM878 482h1v1h-1zM643 483h2v1h-2zM878 483h1v1h-1zM641 484h2v1h-2zM878 484h1v1h-1zM640 485h1v1h-1zM878 485h1v1h-1zM638 486h2v1h-2zM879 486h1v1h-1zM636 487h2v1h-2zM879 487h1v1h-1zM635 488h1v1h-1zM879 488h1v1h-1zM633 489h2v1h-2zM879 489h1v1h-1zM630 490h3v1h-3zM879 490h1v1h-1zM626 491h4v1h-4zM880 491h1v1h-1zM622 492h4v1h-4zM880 492h1v1h-1zM618 493h4v1h-4zM880 493h1v1h-1zM615 494h3v1h-3zM880 494h1v1h-1zM612 495h3v1h-3zM881 495h1v1h-1zM608 496h4v1h-4zM881 496h1v1h-1zM605 497h3v1h-3zM881 497h1v1h-1zM598 498h7v1h-7zM881 498h1v1h-1zM592 499h6v1h-6zM882 499h1v1h-1zM590 500h2v1h-2zM882 500h1v1h-1zM587 501h3v1h-3zM882 501h1v1h-1zM585 502h2v1h-2zM883 502h1v1h-1zM578 503h7v1h-7zM883 503h1v1h-1zM571 504h7v1h-7zM883 504h1v1h-1zM567 505h4v1h-4zM884 505h1v1h-1zM564 506h3v1h-3zM884 506h1v1h-1zM560 507h4v1h-4zM884 507h1v1h-1zM555 508h5v1h-5zM885 508h1v1h-1zM550 509h5v1h-5zM885 509h1v1h-1zM545 510h5v1h-5zM885 510h1v1h-1zM540 511h5v1h-5zM886 511h1v1h-1zM491 512h49v1h-49zM886 512h1v1h-1zM489 513h2v1h-2zM887 513h2v1h-2zM487 514h2v1h-2zM889 514h1v1h-1zM485 515h2v1h-2zM890 515h2v1h-2zM483 516h2v1h-2zM892 516h1v1h-1zM437 517h46v1h-46zM893 517h2v1h-2zM420 518h17v1h-17zM895 518h21v1h-21zM379 519h18v1h-18zM414 519h6v1h-6zM916 519h1v1h-1zM1074 519h3v1h-3zM19 520h1v1h-1zM376 520h3v1h-3zM397 520h17v1h-17zM917 520h1v1h-1zM1069 520h5v1h-5zM20 521h1v1h-1zM373 521h3v1h-3zM918 521h1v1h-1zM1066 521h3v1h-3zM20 522h1v1h-1zM370 522h3v1h-3zM918 522h1v1h-1zM1066 522h1v1h-1zM21 523h1v1h-1zM368 523h2v1h-2zM919 523h1v1h-1zM1065 523h1v1h-1zM22 524h1v1h-1zM366 524h2v1h-2zM920 524h1v1h-1zM1065 524h1v1h-1zM22 525h1v1h-1zM364 525h2v1h-2zM921 525h1v1h-1zM1064 525h1v1h-1zM23 526h1v1h-1zM362 526h2v1h-2zM922 526h1v1h-1zM1064 526h1v1h-1zM23 527h1v1h-1zM350 527h12v1h-12zM923 527h1v1h-1zM1063 527h1v1h-1zM24 528h1v1h-1zM348 528h2v1h-2zM923 528h1v1h-1zM1063 528h1v1h-1zM25 529h1v1h-1zM345 529h3v1h-3zM924 529h1v1h-1zM1062 529h1v1h-1zM25 530h1v1h-1zM343 530h2v1h-2zM925 530h1v1h-1zM1062 530h1v1h-1zM26 531h1v1h-1zM339 531h4v1h-4zM925 531h1v1h-1zM1061 531h1v1h-1zM27 532h1v1h-1zM334 532h5v1h-5zM926 532h1v1h-1zM1061 532h1v1h-1zM27 533h1v1h-1zM321 533h13v1h-13zM926 533h1v1h-1zM1060 533h1v1h-1zM28 534h1v1h-1zM320 534h1v1h-1zM927 534h1v1h-1zM1060 534h1v1h-1zM28 535h1v1h-1zM319 535h1v1h-1zM927 535h1v1h-1zM1059 535h1v1h-1zM29 536h43v1h-43zM120 536h1v1h-1zM318 536h1v1h-1zM928 536h1v1h-1zM1059 536h1v1h-1zM72 537h3v1h-3zM119 537h1v1h-1zM121 537h1v1h-1zM316 537h2v1h-2zM928 537h1v1h-1zM1058 537h1v1h-1zM75 538h4v1h-4zM118 538h1v1h-1zM121 538h1v1h-1zM315 538h1v1h-1zM929 538h1v1h-1zM1058 538h1v1h-1zM79 539h2v1h-2zM117 539h1v1h-1zM122 539h1v1h-1zM314 539h1v1h-1zM929 539h1v1h-1zM1057 539h1v1h-1zM81 540h2v1h-2zM116 540h1v1h-1zM122 540h1v1h-1zM313 540h1v1h-1zM930 540h1v1h-1zM1057 540h1v1h-1zM83 541h1v1h-1zM114 541h2v1h-2zM123 541h1v1h-1zM312 541h1v1h-1zM930 541h1v1h-1zM1056 541h1v1h-1zM84 542h1v1h-1zM113 542h1v1h-1zM123 542h1v1h-1zM311 542h1v1h-1zM931 542h1v1h-1zM1054 542h3v1h-3zM85 543h2v1h-2zM112 543h1v1h-1zM124 543h1v1h-1zM310 543h1v1h-1zM931 543h1v1h-1zM1049 543h5v1h-5zM87 544h1v1h-1zM111 544h1v1h-1zM124 544h1v1h-1zM309 544h1v1h-1zM932 544h1v1h-1zM1041 544h8v1h-8zM88 545h2v1h-2zM110 545h1v1h-1zM125 545h1v1h-1zM308 545h1v1h-1zM932 545h1v1h-1zM1036 545h5v1h-5zM90 546h20v1h-20zM125 546h1v1h-1zM306 546h2v1h-2zM933 546h1v1h-1zM1035 546h1v1h-1zM126 547h1v1h-1zM305 547h1v1h-1zM933 547h1v1h-1zM1035 547h1v1h-1zM126 548h1v1h-1zM304 548h1v1h-1zM934 548h1v1h-1zM1034 548h1v1h-1zM127 549h1v1h-1zM303 549h1v1h-1zM934 549h1v1h-1zM1033 549h1v1h-1zM127 550h1v1h-1zM302 550h1v1h-1zM935 550h1v1h-1zM1032 550h1v1h-1zM128 551h1v1h-1zM301 551h1v1h-1zM935 551h5v1h-5zM1032 551h1v1h-1zM128 552h1v1h-1zM300 552h1v1h-1zM940 552h8v1h-8zM1031 552h1v1h-1zM129 553h1v1h-1zM300 553h1v1h-1zM948 553h5v1h-5zM1030 553h1v1h-1zM129 554h15v1h-15zM299 554h1v1h-1zM953 554h2v1h-2zM1029 554h1v1h-1zM144 555h4v1h-4zM299 555h1v1h-1zM955 555h2v1h-2zM1029 555h1v1h-1zM148 556h3v1h-3zM298 556h1v1h-1zM957 556h2v1h-2zM1028 556h1v1h-1zM151 557h4v1h-4zM297 557h1v1h-1zM959 557h2v1h-2zM1027 557h1v1h-1zM155 558h4v1h-4zM297 558h1v1h-1zM961 558h1v1h-1zM1026 558h1v1h-1zM159 559h13v1h-13zM296 559h1v1h-1zM961 559h1v1h-1zM1026 559h1v1h-1zM172 560h2v1h-2zM296 560h1v1h-1zM962 560h1v1h-1zM1025 560h1v1h-1zM174 561h3v1h-3zM295 561h1v1h-1zM962 561h1v1h-1zM1024 561h1v1h-1zM177 562h2v1h-2zM295 562h1v1h-1zM963 562h1v1h-1zM1024 562h1v1h-1zM179 563h6v1h-6zM294 563h1v1h-1zM963 563h1v1h-1zM1023 563h1v1h-1zM185 564h6v1h-6zM293 564h1v1h-1zM964 564h1v1h-1zM1022 564h1v1h-1zM191 565h2v1h-2zM293 565h1v1h-1zM964 565h1v1h-1zM1022 565h1v1h-1zM193 566h2v1h-2zM292 566h1v1h-1zM965 566h1v1h-1zM1021 566h1v1h-1zM195 567h1v1h-1zM292 567h1v1h-1zM966 567h1v1h-1zM1020 567h1v1h-1zM196 568h2v1h-2zM286 568h6v1h-6zM966 568h1v1h-1zM1019 568h1v1h-1zM198 569h2v1h-2zM279 569h7v1h-7zM967 569h1v1h-1zM1019 569h1v1h-1zM200 570h1v1h-1zM273 570h6v1h-6zM967 570h1v1h-1zM1018 570h1v1h-1zM201 571h1v1h-1zM269 571h4v1h-4zM968 571h1v1h-1zM1017 571h1v1h-1zM202 572h1v1h-1zM265 572h4v1h-4zM968 572h1v1h-1zM1017 572h1v1h-1zM203 573h1v1h-1zM262 573h3v1h-3zM969 573h1v1h-1zM1015 573h2v1h-2zM204 574h1v1h-1zM258 574h4v1h-4zM969 574h1v1h-1zM1013 574h2v1h-2zM205 575h2v1h-2zM253 575h5v1h-5zM970 575h1v1h-1zM1011 575h2v1h-2zM207 576h1v1h-1zM249 576h4v1h-4zM970 576h1v1h-1zM1009 576h2v1h-2zM208 577h1v1h-1zM247 577h2v1h-2zM971 577h1v1h-1zM1007 577h2v1h-2zM209 578h1v1h-1zM244 578h3v1h-3zM972 578h1v1h-1zM1005 578h2v1h-2zM210 579h1v1h-1zM242 579h2v1h-2zM972 579h1v1h-1zM1003 579h2v1h-2zM211 580h2v1h-2zM239 580h3v1h-3zM973 580h1v1h-1zM1000 580h3v1h-3zM213 581h2v1h-2zM237 581h2v1h-2zM973 581h1v1h-1zM998 581h2v1h-2zM215 582h2v1h-2zM234 582h3v1h-3zM974 582h1v1h-1zM995 582h3v1h-3zM217 583h2v1h-2zM232 583h2v1h-2zM974 583h1v1h-1zM993 583h2v1h-2zM219 584h13v1h-13zM975 584h1v1h-1zM990 584h3v1h-3zM975 585h1v1h-1zM988 585h2v1h-2zM976 586h12v1h-12z" fill="#ffc010"/>
<path d="M507 407h6v1h-6zM502 408h5v1h-5zM513 408h1v1h-1zM501 409h1v1h-1zM513 409h1v1h-1zM501 410h1v1h-1zM514 410h1v1h-1zM500 411h1v1h-1zM514 411h1v1h-1zM500 412h1v1h-1zM515 412h1v1h-1zM499 413h1v1h-1zM516 413h1v1h-1zM498 414h1v1h-1zM516 414h1v1h-1zM498 415h1v1h-1zM517 415h1v1h-1zM497 416h1v1h-1zM517 416h1v1h-1zM462 417h1v1h-1zM497 417h1v1h-1zM518 417h1v1h-1zM461 418h1v1h-1zM463 418h2v1h-2zM496 418h1v1h-1zM518 418h1v1h-1zM461 419h1v1h-1zM465 419h2v1h-2zM496 419h1v1h-1zM519 419h1v1h-1zM460 420h1v1h-1zM467 420h1v1h-1zM495 420h1v1h-1zM520 420h1v1h-1zM460 421h1v1h-1zM468 421h2v1h-2zM494 421h1v1h-1zM520 421h1v1h-1zM459 422h1v1h-1zM470 422h2v1h-2zM494 422h1v1h-1zM521 422h1v1h-1zM458 423h1v1h-1zM472 423h1v1h-1zM493 423h1v1h-1zM521 423h1v1h-1zM458 424h1v1h-1zM473 424h2v1h-2zM493 424h1v1h-1zM522 424h2v1h-2zM457 425h1v1h-1zM475 425h1v1h-1zM491 425h2v1h-2zM524 425h2v1h-2zM457 426h1v1h-1zM476 426h1v1h-1zM489 426h2v1h-2zM526 426h3v1h-3zM456 427h1v1h-1zM477 427h2v1h-2zM487 427h2v1h-2zM529 427h2v1h-2zM456 428h1v1h-1zM479 428h1v1h-1zM485 428h2v1h-2zM531 428h2v1h-2zM455 429h1v1h-1zM480 429h2v1h-2zM483 429h2v1h-2zM533 429h1v1h-1zM454 430h1v1h-1zM482 430h1v1h-1zM533 430h1v1h-1zM454 431h1v1h-1zM534 431h1v1h-1zM453 432h1v1h-1zM534 432h1v1h-1zM453 433h1v1h-1zM535 433h1v1h-1zM452 434h1v1h-1zM535 434h1v1h-1zM451 435h1v1h-1zM536 435h1v1h-1zM451 436h1v1h-1zM536 436h1v1h-1zM450 437h1v1h-1zM537 437h1v1h-1zM450 438h1v1h-1zM538 438h1v1h-1zM449 439h1v1h-1zM538 439h1v1h-1zM449 440h1v1h-1zM539 440h1v1h-1zM448 441h1v1h-1zM539 441h1v1h-1zM572 441h1v1h-1zM448 442h1v1h-1zM540 442h1v1h-1zM571 442h1v1h-1zM573 442h2v1h-2zM447 443h1v1h-1zM540 443h1v1h-1zM571 443h1v1h-1zM575 443h2v1h-2zM447 444h1v1h-1zM541 444h1v1h-1zM570 444h1v1h-1zM577 444h1v1h-1zM446 445h1v1h-1zM541 445h1v1h-1zM570 445h1v1h-1zM578 445h2v1h-2zM446 446h1v1h-1zM542 446h1v1h-1zM569 446h1v1h-1zM580 446h2v1h-2zM420 447h2v1h-2zM445 447h1v1h-1zM543 447h1v1h-1zM568 447h1v1h-1zM582 447h1v1h-1zM418 448h2v1h-2zM422 448h1v1h-1zM445 448h1v1h-1zM544 448h1v1h-1zM568 448h1v1h-1zM582 448h1v1h-1zM416 449h2v1h-2zM423 449h1v1h-1zM444 449h1v1h-1zM545 449h1v1h-1zM567 449h1v1h-1zM583 449h1v1h-1zM414 450h2v1h-2zM424 450h1v1h-1zM444 450h1v1h-1zM545 450h1v1h-1zM567 450h1v1h-1zM583 450h1v1h-1zM412 451h2v1h-2zM425 451h1v1h-1zM443 451h1v1h-1zM546 451h1v1h-1zM566 451h1v1h-1zM583 451h1v1h-1zM411 452h1v1h-1zM426 452h1v1h-1zM443 452h1v1h-1zM547 452h1v1h-1zM566 452h1v1h-1zM583 452h1v1h-1zM409 453h2v1h-2zM426 453h1v1h-1zM442 453h1v1h-1zM548 453h1v1h-1zM565 453h1v1h-1zM584 453h1v1h-1zM408 454h1v1h-1zM427 454h1v1h-1zM442 454h1v1h-1zM549 454h1v1h-1zM564 454h1v1h-1zM584 454h1v1h-1zM406 455h2v1h-2zM428 455h1v1h-1zM440 455h2v1h-2zM550 455h1v1h-1zM564 455h1v1h-1zM584 455h1v1h-1zM405 456h1v1h-1zM429 456h1v1h-1zM436 456h4v1h-4zM550 456h1v1h-1zM563 456h1v1h-1zM585 456h1v1h-1zM404 457h1v1h-1zM430 457h1v1h-1zM433 457h3v1h-3zM551 457h1v1h-1zM563 457h1v1h-1zM585 457h1v1h-1zM402 458h2v1h-2zM431 458h2v1h-2zM552 458h11v1h-11zM585 458h1v1h-1zM400 459h2v1h-2zM585 459h1v1h-1zM398 460h2v1h-2zM586 460h1v1h-1zM396 461h2v1h-2zM586 461h1v1h-1zM394 462h2v1h-2zM586 462h1v1h-1zM392 463h2v1h-2zM587 463h1v1h-1zM391 464h1v1h-1zM587 464h1v1h-1zM390 465h1v1h-1zM587 465h1v1h-1zM389 466h1v1h-1zM587 466h1v1h-1zM389 467h1v1h-1zM588 467h1v1h-1zM388 468h1v1h-1zM588 468h1v1h-1zM387 469h1v1h-1zM588 469h1v1h-1zM386 470h1v1h-1zM588 470h1v1h-1zM385 471h1v1h-1zM589 471h1v1h-1zM384 472h1v1h-1zM589 472h1v1h-1zM384 473h1v1h-1zM589 473h1v1h-1zM383 474h1v1h-1zM590 474h1v1h-1zM382 475h1v1h-1zM590 475h1v1h-1zM381 476h1v1h-1zM590 476h1v1h-1zM380 477h1v1h-1zM590 477h1v1h-1zM379 478h1v1h-1zM591 478h1v1h-1zM378 479h1v1h-1zM591 479h1v1h-1zM376 480h2v1h-2zM591 480h1v1h-1zM613 480h1v1h-1zM375 481h1v1h-1zM592 481h1v1h-1zM611 481h3v1h-3zM374 482h1v1h-1zM592 482h1v1h-1zM609 482h2v1h-2zM614 482h1v1h-1zM373 483h1v1h-1zM592 483h1v1h-1zM608 483h1v1h-1zM614 483h1v1h-1zM372 484h1v1h-1zM592 484h1v1h-1zM606 484h2v1h-2zM615 484h1v1h-1zM331 485h1v1h-1zM371 485h1v1h-1zM593 485h1v1h-1zM604 485h2v1h-2zM615 485h1v1h-1zM330 486h1v1h-1zM332 486h2v1h-2zM369 486h2v1h-2zM593 486h11v1h-11zM616 486h1v1h-1zM328 487h2v1h-2zM334 487h2v1h-2zM367 487h2v1h-2zM616 487h1v1h-1zM327 488h1v1h-1zM336 488h1v1h-1zM366 488h1v1h-1zM617 488h1v1h-1zM326 489h1v1h-1zM337 489h2v1h-2zM364 489h2v1h-2zM617 489h1v1h-1zM325 490h1v1h-1zM339 490h2v1h-2zM362 490h2v1h-2zM618 490h1v1h-1zM323 491h2v1h-2zM341 491h5v1h-5zM356 491h6v1h-6zM618 491h1v1h-1zM322 492h1v1h-1zM346 492h10v1h-10zM619 492h1v1h-1zM320 493h2v1h-2zM619 493h1v1h-1zM318 494h2v1h-2zM620 494h1v1h-1zM315 495h3v1h-3zM620 495h1v1h-1zM313 496h2v1h-2zM621 496h1v1h-1zM813 496h2v1h-2zM310 497h3v1h-3zM621 497h1v1h-1zM811 497h2v1h-2zM814 497h1v1h-1zM307 498h3v1h-3zM622 498h1v1h-1zM809 498h2v1h-2zM815 498h1v1h-1zM305 499h2v1h-2zM622 499h1v1h-1zM807 499h2v1h-2zM815 499h1v1h-1zM302 500h3v1h-3zM623 500h1v1h-1zM805 500h2v1h-2zM815 500h1v1h-1zM299 501h3v1h-3zM623 501h1v1h-1zM804 501h1v1h-1zM816 501h1v1h-1zM297 502h2v1h-2zM623 502h1v1h-1zM803 502h1v1h-1zM816 502h1v1h-1zM170 503h1v1h-1zM280 503h3v1h-3zM294 503h3v1h-3zM623 503h1v1h-1zM803 503h1v1h-1zM817 503h1v1h-1zM169 504h1v1h-1zM171 504h1v1h-1zM190 504h1v1h-1zM279 504h1v1h-1zM283 504h5v1h-5zM292 504h2v1h-2zM624 504h1v1h-1zM802 504h1v1h-1zM817 504h1v1h-1zM168 505h1v1h-1zM172 505h1v1h-1zM189 505h1v1h-1zM191 505h1v1h-1zM278 505h1v1h-1zM288 505h4v1h-4zM624 505h1v1h-1zM802 505h1v1h-1zM817 505h1v1h-1zM167 506h1v1h-1zM173 506h1v1h-1zM187 506h2v1h-2zM192 506h1v1h-1zM278 506h1v1h-1zM624 506h1v1h-1zM801 506h1v1h-1zM818 506h1v1h-1zM166 507h1v1h-1zM174 507h1v1h-1zM186 507h1v1h-1zM193 507h1v1h-1zM277 507h1v1h-1zM624 507h1v1h-1zM800 507h1v1h-1zM818 507h1v1h-1zM165 508h1v1h-1zM175 508h2v1h-2zM185 508h1v1h-1zM194 508h1v1h-1zM240 508h1v1h-1zM276 508h1v1h-1zM624 508h1v1h-1zM800 508h1v1h-1zM818 508h1v1h-1zM68 509h2v1h-2zM165 509h1v1h-1zM177 509h1v1h-1zM184 509h1v1h-1zM195 509h2v1h-2zM239 509h1v1h-1zM241 509h2v1h-2zM275 509h1v1h-1zM625 509h1v1h-1zM799 509h1v1h-1zM819 509h1v1h-1zM64 510h4v1h-4zM70 510h2v1h-2zM164 510h1v1h-1zM178 510h1v1h-1zM182 510h2v1h-2zM197 510h1v1h-1zM238 510h1v1h-1zM243 510h2v1h-2zM259 510h2v1h-2zM274 510h1v1h-1zM625 510h1v1h-1zM798 510h1v1h-1zM819 510h1v1h-1zM61 511h3v1h-3zM72 511h1v1h-1zM163 511h1v1h-1zM179 511h1v1h-1zM181 511h1v1h-1zM198 511h1v1h-1zM238 511h1v1h-1zM245 511h2v1h-2zM255 511h4v1h-4zM261 511h2v1h-2zM273 511h1v1h-1zM625 511h1v1h-1zM798 511h1v1h-1zM820 511h1v1h-1zM54 512h7v1h-7zM73 512h1v1h-1zM162 512h1v1h-1zM180 512h1v1h-1zM199 512h1v1h-1zM237 512h1v1h-1zM247 512h2v1h-2zM252 512h3v1h-3zM263 512h2v1h-2zM273 512h1v1h-1zM625 512h1v1h-1zM797 512h1v1h-1zM820 512h1v1h-1zM49 513h5v1h-5zM74 513h2v1h-2zM161 513h1v1h-1zM200 513h1v1h-1zM220 513h1v1h-1zM236 513h1v1h-1zM249 513h3v1h-3zM265 513h2v1h-2zM272 513h1v1h-1zM626 513h1v1h-1zM797 513h1v1h-1zM820 513h1v1h-1zM49 514h1v1h-1zM76 514h1v1h-1zM109 514h1v1h-1zM160 514h1v1h-1zM201 514h1v1h-1zM219 514h1v1h-1zM221 514h2v1h-2zM235 514h1v1h-1zM267 514h2v1h-2zM271 514h1v1h-1zM626 514h1v1h-1zM773 514h2v1h-2zM796 514h1v1h-1zM821 514h1v1h-1zM48 515h1v1h-1zM77 515h2v1h-2zM107 515h2v1h-2zM110 515h1v1h-1zM159 515h1v1h-1zM202 515h2v1h-2zM217 515h2v1h-2zM223 515h1v1h-1zM234 515h1v1h-1zM269 515h2v1h-2zM626 515h1v1h-1zM769 515h4v1h-4zM775 515h1v1h-1zM795 515h1v1h-1zM821 515h1v1h-1zM48 516h1v1h-1zM79 516h2v1h-2zM106 516h1v1h-1zM111 516h1v1h-1zM158 516h1v1h-1zM204 516h1v1h-1zM216 516h1v1h-1zM224 516h1v1h-1zM233 516h1v1h-1zM626 516h1v1h-1zM766 516h3v1h-3zM776 516h1v1h-1zM795 516h1v1h-1zM821 516h1v1h-1zM47 517h1v1h-1zM81 517h2v1h-2zM104 517h2v1h-2zM112 517h1v1h-1zM157 517h1v1h-1zM205 517h1v1h-1zM215 517h1v1h-1zM225 517h2v1h-2zM233 517h1v1h-1zM626 517h1v1h-1zM764 517h2v1h-2zM777 517h1v1h-1zM794 517h1v1h-1zM822 517h1v1h-1zM47 518h1v1h-1zM83 518h3v1h-3zM103 518h1v1h-1zM113 518h1v1h-1zM156 518h1v1h-1zM206 518h1v1h-1zM214 518h1v1h-1zM227 518h1v1h-1zM232 518h1v1h-1zM627 518h1v1h-1zM763 518h1v1h-1zM777 518h1v1h-1zM793 518h1v1h-1zM822 518h1v1h-1zM46 519h1v1h-1zM86 519h2v1h-2zM102 519h1v1h-1zM114 519h2v1h-2zM155 519h1v1h-1zM207 519h2v1h-2zM212 519h2v1h-2zM228 519h2v1h-2zM231 519h1v1h-1zM627 519h1v1h-1zM763 519h1v1h-1zM778 519h1v1h-1zM792 519h1v1h-1zM823 519h1v1h-1zM46 520h1v1h-1zM88 520h6v1h-6zM100 520h2v1h-2zM116 520h1v1h-1zM155 520h1v1h-1zM209 520h1v1h-1zM211 520h1v1h-1zM230 520h1v1h-1zM627 520h1v1h-1zM762 520h1v1h-1zM779 520h1v1h-1zM791 520h1v1h-1zM823 520h1v1h-1zM45 521h1v1h-1zM94 521h6v1h-6zM117 521h1v1h-1zM154 521h1v1h-1zM210 521h1v1h-1zM627 521h1v1h-1zM762 521h1v1h-1zM780 521h1v1h-1zM789 521h2v1h-2zM823 521h1v1h-1zM45 522h1v1h-1zM118 522h1v1h-1zM153 522h1v1h-1zM627 522h1v1h-1zM761 522h1v1h-1zM781 522h1v1h-1zM788 522h1v1h-1zM824 522h1v1h-1zM44 523h1v1h-1zM119 523h5v1h-5zM152 523h1v1h-1zM628 523h1v1h-1zM761 523h1v1h-1zM782 523h1v1h-1zM787 523h1v1h-1zM824 523h1v1h-1zM44 524h1v1h-1zM124 524h10v1h-10zM151 524h1v1h-1zM628 524h1v1h-1zM760 524h1v1h-1zM782 524h1v1h-1zM786 524h1v1h-1zM43 525h1v1h-1zM134 525h10v1h-10zM150 525h1v1h-1zM628 525h1v1h-1zM760 525h1v1h-1zM783 525h1v1h-1zM785 525h1v1h-1zM43 526h1v1h-1zM144 526h6v1h-6zM628 526h1v1h-1zM759 526h1v1h-1zM784 526h1v1h-1zM42 527h1v1h-1zM629 527h1v1h-1zM759 527h1v1h-1zM42 528h1v1h-1zM629 528h1v1h-1zM758 528h1v1h-1zM41 529h1v1h-1zM629 529h1v1h-1zM758 529h1v1h-1zM41 530h1v1h-1zM629 530h1v1h-1zM757 530h1v1h-1zM40 531h1v1h-1zM629 531h1v1h-1zM757 531h1v1h-1zM40 532h1v1h-1zM630 532h1v1h-1zM756 532h1v1h-1zM29 533h11v1h-11zM630 533h1v1h-1zM756 533h1v1h-1zM28 534h1v1h-1zM630 534h1v1h-1zM755 534h1v1h-1zM28 535h1v1h-1zM630 535h1v1h-1zM755 535h1v1h-1zM27 536h1v1h-1zM630 536h1v1h-1zM744 536h11v1h-11zM27 537h1v1h-1zM631 537h1v1h-1zM742 537h2v1h-2zM26 538h1v1h-1zM631 538h1v1h-1zM740 538h2v1h-2zM25 539h1v1h-1zM631 539h1v1h-1zM739 539h1v1h-1zM25 540h1v1h-1zM631 540h1v1h-1zM737 540h2v1h-2zM24 541h1v1h-1zM632 541h1v1h-1zM735 541h2v1h-2zM23 542h1v1h-1zM632 542h1v1h-1zM734 542h1v1h-1zM23 543h1v1h-1zM632 543h1v1h-1zM733 543h1v1h-1zM22 544h1v1h-1zM632 544h1v1h-1zM732 544h1v1h-1zM22 545h1v1h-1zM632 545h1v1h-1zM731 545h1v1h-1zM21 546h1v1h-1zM633 546h1v1h-1zM730 546h1v1h-1zM20 547h1v1h-1zM633 547h1v1h-1zM728 547h2v1h-2zM20 548h1v1h-1zM633 548h1v1h-1zM727 548h1v1h-1zM19 549h1v1h-1zM634 549h1v1h-1zM726 549h1v1h-1zM634 550h1v1h-1zM725 550h1v1h-1zM635 551h1v1h-1zM724 551h1v1h-1zM636 552h1v1h-1zM723 552h1v1h-1zM636 553h1v1h-1zM723 553h1v1h-1zM637 554h1v1h-1zM722 554h1v1h-1zM638 555h1v1h-1zM722 555h1v1h-1zM638 556h1v1h-1zM721 556h1v1h-1zM639 557h1v1h-1zM721 557h1v1h-1zM640 558h1v1h-1zM720 558h1v1h-1zM640 559h1v1h-1zM720 559h1v1h-1zM641 560h1v1h-1zM719 560h1v1h-1zM642 561h1v1h-1zM719 561h1v1h-1zM642 562h1v1h-1zM718 562h1v1h-1zM643 563h5v1h-5zM718 563h1v1h-1zM648 564h6v1h-6zM717 564h1v1h-1zM653 565h1v1h-1zM717 565h1v1h-1zM654 566h1v1h-1zM716 566h1v1h-1zM654 567h1v1h-1zM716 567h1v1h-1zM655 568h1v1h-1zM715 568h1v1h-1zM655 569h1v1h-1zM715 569h1v1h-1zM656 570h1v1h-1zM714 570h1v1h-1zM656 571h1v1h-1zM714 571h1v1h-1zM656 572h1v1h-1zM713 572h1v1h-1zM657 573h1v1h-1zM703 573h11v1h-11zM657 574h1v1h-1zM702 574h1v1h-1zM658 575h1v1h-1zM701 575h1v1h-1zM658 576h1v1h-1zM700 576h1v1h-1zM658 577h1v1h-1zM699 577h1v1h-1zM659 578h1v1h-1zM698 578h1v1h-1zM659 579h1v1h-1zM697 579h1v1h-1zM660 580h1v1h-1zM696 580h1v1h-1zM660 581h1v1h-1zM695 581h1v1h-1zM661 582h1v1h-1zM694 582h1v1h-1zM661 583h1v1h-1zM693 583h1v1h-1zM661 584h1v1h-1zM692 584h1v1h-1zM662 585h1v1h-1zM692 585h1v1h-1zM662 586h1v1h-1zM691 586h1v1h-1zM663 587h1v1h-1zM691 587h1v1h-1zM663 588h1v1h-1zM690 588h1v1h-1zM663 589h1v1h-1zM689 589h1v1h-1zM664 590h1v1h-1zM689 590h1v1h-1zM664 591h1v1h-1zM688 591h1v1h-1zM664 592h1v1h-1zM688 592h1v1h-1zM665 593h1v1h-1zM687 593h1v1h-1zM665 594h1v1h-1zM687 594h1v1h-1zM665 595h1v1h-1zM686 595h1v1h-1zM666 596h1v1h-1zM685 596h1v1h-1zM666 597h1v1h-1zM685 597h1v1h-1zM666 598h1v1h-1zM684 598h1v1h-1zM667 599h1v1h-1zM684 599h1v1h-1zM667 600h1v1h-1zM683 600h1v1h-1zM667 601h1v1h-1zM682 601h1v1h-1zM668 602h1v1h-1zM682 602h1v1h-1zM668 603h1v1h-1zM681 603h1v1h-1zM669 604h1v1h-1zM681 604h1v1h-1zM669 605h1v1h-1zM680 605h1v1h-1zM669 606h1v1h-1zM679 606h1v1h-1zM670 607h1v1h-1zM679 607h1v1h-1zM670 608h1v1h-1zM678 608h1v1h-1zM670 609h1v1h-1zM678 609h1v1h-1zM671 610h1v1h-1zM677 610h1v1h-1zM671 611h1v1h-1zM677 611h1v1h-1zM671 612h1v1h-1zM676 612h1v1h-1zM672 613h1v1h-1zM675 613h1v1h-1zM672 614h1v1h-1zM675 614h1v1h-1zM672 615h1v1h-1zM674 615h1v1h-1zM673 616h2v1h-2zM673 617h1v1h-1z" fill="#18c8ff"/>
<path d="M1045 443h3v1h-3zM1041 444h4v1h-4zM1048 444h3v1h-3zM1038 445h3v1h-3zM1051 445h4v1h-4zM1031 446h7v1h-7zM1055 446h46v1h-46zM1024 447h7v1h-7zM1101 447h4v1h-4zM1021 448h3v1h-3zM1105 448h3v1h-3zM1018 449h3v1h-3zM1108 449h2v1h-2zM996 450h22v1h-22zM1110 450h2v1h-2zM994 451h2v1h-2zM1112 451h1v1h-1zM993 452h1v1h-1zM1113 452h2v1h-2zM991 453h2v1h-2zM1115 453h2v1h-2zM990 454h1v1h-1zM1117 454h5v1h-5zM989 455h1v1h-1zM1122 455h6v1h-6zM987 456h2v1h-2zM1128 456h1v1h-1zM985 457h2v1h-2zM1129 457h1v1h-1zM983 458h2v1h-2zM1130 458h1v1h-1zM980 459h3v1h-3zM1130 459h1v1h-1zM978 460h2v1h-2zM1131 460h1v1h-1zM976 461h2v1h-2zM1132 461h1v1h-1zM975 462h1v1h-1zM1133 462h1v1h-1zM974 463h1v1h-1zM1134 463h1v1h-1zM973 464h1v1h-1zM1135 464h1v1h-1zM972 465h1v1h-1zM1135 465h1v1h-1zM971 466h1v1h-1zM1136 466h1v1h-1zM970 467h1v1h-1zM1137 467h1v1h-1zM969 468h1v1h-1zM1137 468h1v1h-1zM968 469h1v1h-1zM1138 469h1v1h-1zM967 470h1v1h-1zM1138 470h1v1h-1zM966 471h1v1h-1zM1138 471h1v1h-1zM965 472h1v1h-1zM1139 472h1v1h-1zM963 473h2v1h-2zM1139 473h1v1h-1zM962 474h1v1h-1zM1139 474h1v1h-1zM961 475h1v1h-1zM1140 475h1v1h-1zM960 476h1v1h-1zM1140 476h1v1h-1zM958 477h2v1h-2zM1140 477h1v1h-1zM957 478h1v1h-1zM1141 478h1v1h-1zM951 479h6v1h-6zM1141 479h1v1h-1zM941 480h10v1h-10zM1141 480h1v1h-1zM933 481h8v1h-8zM1142 481h1v1h-1zM928 482h5v1h-5zM1142 482h1v1h-1zM924 483h4v1h-4zM1142 483h1v1h-1zM922 484h2v1h-2zM1143 484h1v1h-1zM920 485h2v1h-2zM1143 485h1v1h-1zM918 486h2v1h-2zM1143 486h1v1h-1zM916 487h2v1h-2zM1144 487h1v1h-1zM914 488h2v1h-2zM1144 488h1v1h-1zM910 489h4v1h-4zM1144 489h1v1h-1zM907 490h3v1h-3zM1145 490h1v1h-1zM905 491h2v1h-2zM1145 491h1v1h-1zM903 492h2v1h-2zM1145 492h1v1h-1zM902 493h1v1h-1zM1145 493h1v1h-1zM900 494h2v1h-2zM1145 494h1v1h-1zM899 495h1v1h-1zM1145 495h1v1h-1zM898 496h1v1h-1zM1146 496h1v1h-1zM896 497h2v1h-2zM1146 497h1v1h-1zM893 498h3v1h-3zM1146 498h1v1h-1zM888 499h5v1h-5zM1146 499h1v1h-1zM883 500h5v1h-5zM1146 500h1v1h-1zM878 501h5v1h-5zM1146 501h1v1h-1zM865 502h13v1h-13zM1147 502h1v1h-1zM854 503h11v1h-11zM1148 503h1v1h-1zM852 504h2v1h-2zM1149 504h1v1h-1zM849 505h3v1h-3zM1150 505h2v1h-2zM847 506h2v1h-2zM1152 506h1v1h-1zM842 507h5v1h-5zM1153 507h1v1h-1zM835 508h7v1h-7zM1154 508h2v1h-2zM829 509h6v1h-6zM1156 509h1v1h-1zM823 510h6v1h-6zM1157 510h6v1h-6zM818 511h5v1h-5zM813 512h5v1h-5zM809 513h4v1h-4zM805 514h4v1h-4zM801 515h4v1h-4zM797 516h4v1h-4zM790 517h7v1h-7zM780 518h10v1h-10zM770 519h10v1h-10zM760 520h10v1h-10zM754 521h6v1h-6zM752 522h2v1h-2zM750 523h2v1h-2zM748 524h2v1h-2zM746 525h2v1h-2zM744 526h2v1h-2zM742 527h2v1h-2zM739 528h3v1h-3zM737 529h2v1h-2zM734 530h3v1h-3zM730 531h4v1h-4zM727 532h3v1h-3zM720 533h7v1h-7zM710 534h10v1h-10zM694 535h16v1h-16zM682 536h12v1h-12zM680 537h2v1h-2zM677 538h3v1h-3zM653 539h18v1h-18zM675 539h2v1h-2zM631 540h22v1h-22zM671 540h4v1h-4zM621 541h10v1h-10zM616 542h5v1h-5zM611 543h5v1h-5zM606 544h5v1h-5zM593 545h13v1h-13zM582 546h11v1h-11zM580 547h2v1h-2zM577 548h3v1h-3zM401 549h5v1h-5zM575 549h2v1h-2zM406 550h7v1h-7zM572 550h3v1h-3zM413 551h3v1h-3zM570 551h2v1h-2zM416 552h2v1h-2zM568 552h2v1h-2zM418 553h3v1h-3zM566 553h2v1h-2zM421 554h6v1h-6zM564 554h2v1h-2zM427 555h10v1h-10zM563 555h1v1h-1zM437 556h8v1h-8zM562 556h1v1h-1zM445 557h5v1h-5zM561 557h1v1h-1zM450 558h5v1h-5zM560 558h1v1h-1zM455 559h5v1h-5zM558 559h2v1h-2zM460 560h4v1h-4zM557 560h1v1h-1zM464 561h2v1h-2zM556 561h1v1h-1zM466 562h3v1h-3zM555 562h1v1h-1zM469 563h2v1h-2zM554 563h1v1h-1zM471 564h4v1h-4zM500 564h7v1h-7zM538 564h16v1h-16zM475 565h5v1h-5zM496 565h4v1h-4zM507 565h8v1h-8zM531 565h7v1h-7zM480 566h6v1h-6zM492 566h4v1h-4zM515 566h5v1h-5zM525 566h6v1h-6zM486 567h6v1h-6zM520 567h5v1h-5z" fill="#ff00ff"/>
<path d="M1069 468h69v1h-69zM1065 469h4v1h-4zM1138 469h1v1h-1zM1063 470h2v1h-2zM1138 470h1v1h-1zM1061 471h2v1h-2zM1138 471h1v1h-1zM1059 472h2v1h-2zM1139 472h1v1h-1zM1057 473h2v1h-2zM1139 473h1v1h-1zM1054 474h3v1h-3zM1139 474h1v1h-1zM1049 475h5v1h-5zM1140 475h1v1h-1zM1044 476h5v1h-5zM1140 476h1v1h-1zM1039 477h5v1h-5zM1140 477h1v1h-1zM1034 478h5v1h-5zM1141 478h1v1h-1zM1028 479h6v1h-6zM1141 479h1v1h-1zM1024 480h4v1h-4zM1141 480h1v1h-1zM1022 481h2v1h-2zM1142 481h1v1h-1zM1020 482h2v1h-2zM1142 482h1v1h-1zM1018 483h2v1h-2zM1143 483h1v1h-1zM1016 484h2v1h-2zM1143 484h1v1h-1zM1014 485h2v1h-2zM1143 485h1v1h-1zM1013 486h1v1h-1zM1144 486h1v1h-1zM1011 487h2v1h-2zM1144 487h1v1h-1zM1010 488h1v1h-1zM1144 488h1v1h-1zM1009 489h1v1h-1zM1145 489h1v1h-1zM1007 490h2v1h-2zM1145 490h1v1h-1zM1006 491h1v1h-1zM1145 491h1v1h-1zM1005 492h1v1h-1zM1146 492h1v1h-1zM1003 493h2v1h-2zM1146 493h1v1h-1zM1002 494h1v1h-1zM1147 494h1v1h-1zM1001 495h1v1h-1zM1147 495h1v1h-1zM1000 496h1v1h-1zM1148 496h2v1h-2zM998 497h2v1h-2zM1150 497h1v1h-1zM997 498h1v1h-1zM1151 498h1v1h-1zM996 499h1v1h-1zM1152 499h2v1h-2zM995 500h1v1h-1zM1154 500h1v1h-1zM994 501h1v1h-1zM1155 501h2v1h-2zM993 502h1v1h-1zM1157 502h6v1h-6zM992 503h1v1h-1zM991 504h1v1h-1zM990 505h1v1h-1zM989 506h1v1h-1zM988 507h1v1h-1zM987 508h1v1h-1zM981 509h6v1h-6zM976 510h5v1h-5zM975 511h1v1h-1zM973 512h2v1h-2zM972 513h1v1h-1zM971 514h1v1h-1zM970 515h1v1h-1zM968 516h2v1h-2zM967 517h1v1h-1zM965 518h2v1h-2zM963 519h2v1h-2zM961 520h2v1h-2zM959 521h2v1h-2zM957 522h2v1h-2zM954 523h3v1h-3zM948 524h6v1h-6zM944 525h4v1h-4zM942 526h2v1h-2zM939 527h3v1h-3zM937 528h2v1h-2zM934 529h3v1h-3zM930 530h4v1h-4zM927 531h3v1h-3zM924 532h3v1h-3zM920 533h4v1h-4zM917 534h3v1h-3zM914 535h3v1h-3zM910 536h4v1h-4zM907 537h3v1h-3zM905 538h2v1h-2zM903 539h2v1h-2zM901 540h2v1h-2zM900 541h1v1h-1zM898 542h2v1h-2zM896 543h2v1h-2zM860 544h36v1h-36zM854 545h6v1h-6zM851 546h3v1h-3zM849 547h2v1h-2zM663 548h26v1h-26zM844 548h5v1h-5zM689 549h78v1h-78zM838 549h6v1h-6zM767 550h3v1h-3zM833 550h5v1h-5zM770 551h4v1h-4zM828 551h5v1h-5zM774 552h3v1h-3zM823 552h5v1h-5zM777 553h2v1h-2zM818 553h5v1h-5zM779 554h3v1h-3zM813 554h5v1h-5zM782 555h31v1h-31z" fill="#1e90ff"/>
<rect x="14" y="367" width="1149" height="1" fill="#000"/>
<rect x="1162" y="367" width="1" height="349" fill="#000"/>
<rect x="14" y="715" width="1149" height="1" fill="#000"/>
<rect x="64" y="367" width="1" height="1" fill="#c8c8c8"/>
<rect x="185" y="367" width="1" height="1" fill="#c8c8c8"/>
<rect x="306" y="367" width="1" height="1" fill="#c8c8c8"/>
<rect x="427" y="367" width="1" height="1" fill="#c8c8c8"/>
<rect x="548" y="367" width="1" height="1" fill="#c8c8c8"/>
<rect x="668" y="367" width="1" height="1" fill="#c8c8c8"/>
<rect x="789" y="367" width="1" height="1" fill="#c8c8c8"/>
<rect x="910" y="367" width="1" height="1" fill="#c8c8c8"/>
<rect x="1031" y="367" width="1" height="1" fill="#c8c8c8"/>
<rect x="14" y="716" width="1149" height="9" fill="#c8c8c8"/>
<rect x="14" y="716" width="16" height="9" fill="#e8e8e8"/>
<rect x="14" y="716" width="16" height="1" fill="#fff"/>
<rect x="1146" y="716" width="17" height="9" fill="#e8e8e8"/>
<rect x="1146" y="716" width="17" height="1" fill="#fff"/>
<path d="M19 725 L23 721 L23 725Z" fill="#222" shape-rendering="auto"/>
<path d="M1153 721 L1157 725 L1153 725Z" fill="#222" shape-rendering="auto"/>
<rect x="1000.5" y="716.5" width="15" height="8" fill="#f0f0f0" stroke="#aaa"/>
<text transform="translate(65.6,379) scale(0.9,1.05)" font-size="12" fill="#000">2</text>
<path d="M72.5 379.5 L76.5 370.5" stroke="#000" stroke-width="1" fill="none" shape-rendering="auto"/>
<text transform="translate(77.1,379) scale(0.9,1.05)" font-size="12" fill="#000">1</text>
<text transform="translate(186.6,379) scale(0.9,1.05)" font-size="12" fill="#000">3</text>
<path d="M193.5 379.5 L197.5 370.5" stroke="#000" stroke-width="1" fill="none" shape-rendering="auto"/>
<text transform="translate(198.1,379) scale(0.9,1.05)" font-size="12" fill="#000">1</text>
<text transform="translate(307.6,379) scale(0.9,1.05)" font-size="12" fill="#000">4</text>
<path d="M314.5 379.5 L318.5 370.5" stroke="#000" stroke-width="1" fill="none" shape-rendering="auto"/>
<text transform="translate(319.1,379) scale(0.9,1.05)" font-size="12" fill="#000">1</text>
<text transform="translate(428.6,379) scale(0.9,1.05)" font-size="12" fill="#000">5</text>
<path d="M435.5 379.5 L439.5 370.5" stroke="#000" stroke-width="1" fill="none" shape-rendering="auto"/>
<text transform="translate(440.1,379) scale(0.9,1.05)" font-size="12" fill="#000">1</text>
<text transform="translate(549.6,379) scale(0.9,1.05)" font-size="12" fill="#000">6</text>
<path d="M556.5 379.5 L560.5 370.5" stroke="#000" stroke-width="1" fill="none" shape-rendering="auto"/>
<text transform="translate(561.1,379) scale(0.9,1.05)" font-size="12" fill="#000">1</text>
<text transform="translate(669.6,379) scale(0.9,1.05)" font-size="12" fill="#000">7</text>
<path d="M676.5 379.5 L680.5 370.5" stroke="#000" stroke-width="1" fill="none" shape-rendering="auto"/>
<text transform="translate(681.1,379) scale(0.9,1.05)" font-size="12" fill="#000">1</text>
<text transform="translate(790.6,379) scale(0.9,1.05)" font-size="12" fill="#000">8</text>
<path d="M797.5 379.5 L801.5 370.5" stroke="#000" stroke-width="1" fill="none" shape-rendering="auto"/>
<text transform="translate(802.1,379) scale(0.9,1.05)" font-size="12" fill="#000">1</text>
<text transform="translate(911.6,379) scale(0.9,1.05)" font-size="12" fill="#000">9</text>
<path d="M918.5 379.5 L922.5 370.5" stroke="#000" stroke-width="1" fill="none" shape-rendering="auto"/>
<text transform="translate(923.1,379) scale(0.9,1.05)" font-size="12" fill="#000">1</text>
<text transform="translate(1032.6,379) scale(0.9,1.05)" font-size="12" fill="#000">1</text>
<text transform="translate(1038.6,379) scale(0.9,1.05)" font-size="12" fill="#000">0</text>
<path d="M1045.5 379.5 L1049.5 370.5" stroke="#000" stroke-width="1" fill="none" shape-rendering="auto"/>
<text transform="translate(1050.1,379) scale(0.9,1.05)" font-size="12" fill="#000">1</text>
<text transform="translate(1159.7,405.7) scale(0.9,1.05)" font-size="12" text-anchor="end" fill="#000">14000</text>
<text transform="translate(1159.7,466.7) scale(0.9,1.05)" font-size="12" text-anchor="end" fill="#000">12000</text>
<text transform="translate(1159.7,527.7) scale(0.9,1.05)" font-size="12" text-anchor="end" fill="#000">10000</text>
<text transform="translate(1159.7,588.7) scale(0.9,1.05)" font-size="12" text-anchor="end" fill="#000">8000</text>
<text transform="translate(1148,650.7) scale(0.9,1.05)" font-size="12" text-anchor="end" fill="#000">400</text>
<g transform="translate(1149,641)" fill="none" stroke="#000" stroke-width="1" shape-rendering="crispEdges"><path d="M0 1.5H11 M4 4.5H10 M9.5 4.5V10 M7 10.5H9.5"/></g>
<g transform="translate(1149,641)" fill="none" stroke="#000" stroke-width="1"><path d="M4.5 2 C4.5 6 3.5 8.5 0.5 11"/></g>
<text transform="translate(1148,682.7) scale(0.9,1.05)" font-size="12" text-anchor="end" fill="#000">200</text>
<g transform="translate(1149,673)" fill="none" stroke="#000" stroke-width="1" shape-rendering="crispEdges"><path d="M0 1.5H11 M4 4.5H10 M9.5 4.5V10 M7 10.5H9.5"/></g>
<g transform="translate(1149,673)" fill="none" stroke="#000" stroke-width="1"><path d="M4.5 2 C4.5 6 3.5 8.5 0.5 11"/></g>
<text transform="translate(1159.7,713.7) scale(0.9,1.05)" font-size="12" text-anchor="end" fill="#000">0</text>
<rect x="1167" y="367" width="1" height="190" fill="#c8c8c8"/>
<rect x="1167" y="367" width="8" height="1" fill="#c8c8c8"/>
<rect x="1167" y="393" width="8" height="1" fill="#c8c8c8"/>
<rect x="1167" y="491" width="8" height="1" fill="#c8c8c8"/>
<rect x="1167" y="556" width="8" height="1" fill="#c8c8c8"/>
<rect x="1167" y="563" width="1" height="163" fill="#c8c8c8"/>
<rect x="1167" y="563" width="8" height="1" fill="#c8c8c8"/>
<rect x="1172" y="576" width="3" height="1" fill="#000"/>
<rect x="1172" y="595" width="3" height="1" fill="#000"/>
<rect x="1172" y="614" width="3" height="1" fill="#000"/>
<rect x="1172" y="633" width="3" height="1" fill="#000"/>
<rect x="1172" y="652" width="3" height="1" fill="#000"/>
<rect x="1173" y="375" width="1" height="12" fill="#000"/>
<rect x="1173" y="375" width="2" height="1" fill="#000"/>
<rect x="1173" y="381" width="2" height="1" fill="#000"/>
<rect x="1173" y="386" width="2" height="1" fill="#000"/>
<rect x="1173" y="400" width="1" height="5" fill="#000"/>
<rect x="1171" y="403" width="4" height="1" fill="#000"/>
<rect x="1171" y="406" width="1" height="2" fill="#000"/>
<rect x="1174" y="406" width="1" height="2" fill="#000"/>
<rect x="1172" y="408" width="1" height="2" fill="#000"/>
<rect x="1173" y="408" width="1" height="2" fill="#000"/>
<rect x="1173" y="410" width="1" height="2" fill="#000"/>
<rect x="1172" y="410" width="1" height="2" fill="#000"/>
<rect x="1174" y="412" width="1" height="2" fill="#000"/>
<rect x="1171" y="412" width="1" height="2" fill="#000"/>
<rect x="1172" y="418" width="3" height="1" fill="#000"/>
<rect x="1172" y="422" width="1" height="9" fill="#000"/>
<rect x="1172" y="422" width="3" height="1" fill="#000"/>
<rect x="1172" y="430" width="3" height="1" fill="#000"/>
<rect x="1172" y="437" width="1" height="6" fill="#000"/>
<rect x="1172" y="437" width="3" height="1" fill="#000"/>
<rect x="1173" y="443" width="2" height="1" fill="#000"/>
<rect x="1173" y="445" width="1" height="4" fill="#000"/>
<rect x="1173" y="454" width="1" height="1" fill="#000"/>
<rect x="1172" y="455" width="1" height="1" fill="#000"/>
<rect x="1173" y="456" width="1" height="1" fill="#000"/>
<rect x="1174" y="457" width="1" height="1" fill="#000"/>
<rect x="1173" y="458" width="1" height="1" fill="#000"/>
<rect x="1172" y="459" width="1" height="1" fill="#000"/>
<rect x="1171" y="461" width="4" height="1" fill="#000"/>
<rect x="1173" y="460" width="1" height="7" fill="#000"/>
<rect x="1171" y="463" width="2" height="1" fill="#000"/>
<rect x="1173" y="473" width="1" height="5" fill="#000"/>
<rect x="1172" y="480" width="1" height="5" fill="#000"/>
<rect x="1172" y="485" width="3" height="1" fill="#000"/>
<path d="M1171.5 504 L1174 498.5 M1173.5 498 V510.5" stroke="#ff0000" fill="none" shape-rendering="auto"/>
<path d="M1171.5 522.5 L1174 517 M1173.5 516.5 V529" stroke="#0000ff" fill="none" shape-rendering="auto"/>
<path d="M1171.5 537 L1174 534 M1173.5 534 V547 M1171 546.5 H1175 M1172 540.5H1174 M1172 542.5H1174 M1172 544.5H1174" stroke="#aa6600" fill="none" shape-rendering="auto"/>
<rect x="1175" y="360" width="30" height="370" fill="#fff"/>
<rect x="879" y="1" width="1" height="303" fill="#a4a4e0"/>
<rect x="880" y="367" width="1" height="286" fill="#a4a4e0"/>
</svg></body></html>
